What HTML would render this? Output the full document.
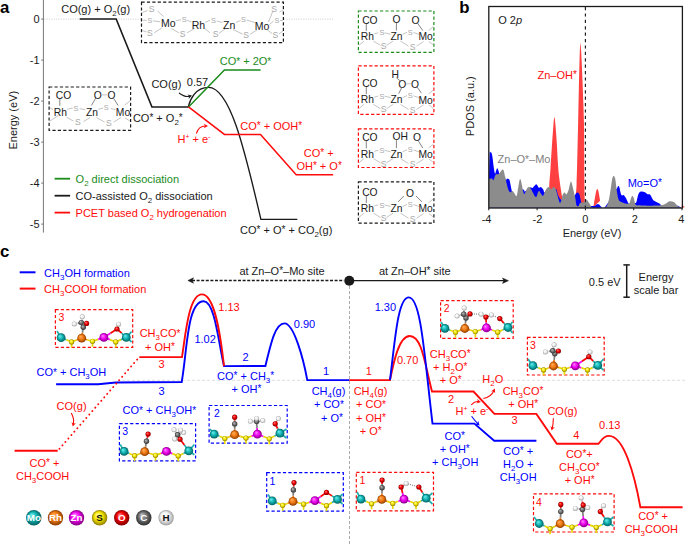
<!DOCTYPE html>
<html><head><meta charset="utf-8"><style>
html,body{margin:0;padding:0;background:#fff;}
svg{display:block;font-family:"Liberation Sans", sans-serif;}
</style></head><body>
<svg width="685" height="544" viewBox="0 0 685 544">
<defs><radialGradient id="gMo" cx="0.5" cy="0.5" r="0.5" fx="0.35" fy="0.3"><stop offset="0" stop-color="#70f0f0"/><stop offset="0.55" stop-color="#10b0b0"/><stop offset="1" stop-color="#056060"/></radialGradient><radialGradient id="gRh" cx="0.5" cy="0.5" r="0.5" fx="0.35" fy="0.3"><stop offset="0" stop-color="#ffb060"/><stop offset="0.55" stop-color="#f07810"/><stop offset="1" stop-color="#8a3c00"/></radialGradient><radialGradient id="gZn" cx="0.5" cy="0.5" r="0.5" fx="0.35" fy="0.3"><stop offset="0" stop-color="#ff90ff"/><stop offset="0.55" stop-color="#f000f0"/><stop offset="1" stop-color="#800080"/></radialGradient><radialGradient id="gS" cx="0.5" cy="0.5" r="0.5" fx="0.35" fy="0.3"><stop offset="0" stop-color="#ffffa0"/><stop offset="0.55" stop-color="#f5e600"/><stop offset="1" stop-color="#907e00"/></radialGradient><radialGradient id="gO" cx="0.5" cy="0.5" r="0.5" fx="0.35" fy="0.3"><stop offset="0" stop-color="#ff8080"/><stop offset="0.55" stop-color="#f00000"/><stop offset="1" stop-color="#800000"/></radialGradient><radialGradient id="gC" cx="0.5" cy="0.5" r="0.5" fx="0.35" fy="0.3"><stop offset="0" stop-color="#c0c0c0"/><stop offset="0.55" stop-color="#707070"/><stop offset="1" stop-color="#303030"/></radialGradient><radialGradient id="gH" cx="0.5" cy="0.5" r="0.5" fx="0.35" fy="0.3"><stop offset="0" stop-color="#ffffff"/><stop offset="0.55" stop-color="#f0f0f0"/><stop offset="1" stop-color="#a0a0a0"/></radialGradient></defs>
<rect width="685" height="544" fill="#fff"/>
<text x="0" y="13.1" font-size="16.8" fill="#000" text-anchor="start" font-weight="bold" >a</text>
<line x1="43.4" y1="0" x2="43.4" y2="232.6" stroke="#777" stroke-width="1" />
<line x1="41.2" y1="19.1" x2="43.4" y2="19.1" stroke="#777" stroke-width="1" />
<text x="39.6" y="22.6" font-size="11" fill="#1a1a1a" text-anchor="end" font-weight="normal" >0</text>
<line x1="41.2" y1="60.1" x2="43.4" y2="60.1" stroke="#777" stroke-width="1" />
<text x="39.6" y="63.6" font-size="11" fill="#1a1a1a" text-anchor="end" font-weight="normal" >-1</text>
<line x1="41.2" y1="101.1" x2="43.4" y2="101.1" stroke="#777" stroke-width="1" />
<text x="39.6" y="104.6" font-size="11" fill="#1a1a1a" text-anchor="end" font-weight="normal" >-2</text>
<line x1="41.2" y1="142.1" x2="43.4" y2="142.1" stroke="#777" stroke-width="1" />
<text x="39.6" y="145.6" font-size="11" fill="#1a1a1a" text-anchor="end" font-weight="normal" >-3</text>
<line x1="41.2" y1="183.1" x2="43.4" y2="183.1" stroke="#777" stroke-width="1" />
<text x="39.6" y="186.6" font-size="11" fill="#1a1a1a" text-anchor="end" font-weight="normal" >-4</text>
<line x1="41.2" y1="224.1" x2="43.4" y2="224.1" stroke="#777" stroke-width="1" />
<text x="39.6" y="227.6" font-size="11" fill="#1a1a1a" text-anchor="end" font-weight="normal" >-5</text>
<text x="0" y="0" font-size="11" fill="#1a1a1a" text-anchor="middle" transform="translate(17.0,120.2) rotate(-90)">Energy (eV)</text>
<line x1="44" y1="19.1" x2="333" y2="19.1" stroke="#c8c8c8" stroke-width="0.8" stroke-dasharray="1.2,1.2"/>
<rect x="141.5" y="2.2" width="141.89999999999998" height="40.5" fill="#fff" stroke="#1a1a1a" stroke-width="1.2" stroke-dasharray="3.2,2.2"/>
<line x1="163.5" y1="16.4" x2="157.5" y2="11" stroke="#bdbdbd" stroke-width="0.9"/>
<line x1="160.3" y1="21.9" x2="153.1" y2="20.8" stroke="#bdbdbd" stroke-width="0.9"/>
<line x1="161.9" y1="27.9" x2="154.2" y2="32.8" stroke="#bdbdbd" stroke-width="0.9"/>
<line x1="175.6" y1="20.8" x2="181" y2="19.7" stroke="#bdbdbd" stroke-width="0.9"/>
<line x1="187.1" y1="20.3" x2="191.5" y2="21.9" stroke="#bdbdbd" stroke-width="0.9"/>
<line x1="171.2" y1="28.5" x2="178.9" y2="32.8" stroke="#bdbdbd" stroke-width="0.9"/>
<line x1="187.1" y1="32.8" x2="194.7" y2="28.5" stroke="#bdbdbd" stroke-width="0.9"/>
<line x1="205.1" y1="22.4" x2="210" y2="20.3" stroke="#bdbdbd" stroke-width="0.9"/>
<line x1="204.6" y1="28.5" x2="210" y2="32.8" stroke="#bdbdbd" stroke-width="0.9"/>
<line x1="216.8" y1="21" x2="222.5" y2="22.5" stroke="#bdbdbd" stroke-width="0.9"/>
<line x1="218.8" y1="33.5" x2="225" y2="29" stroke="#bdbdbd" stroke-width="0.9"/>
<line x1="235.8" y1="22.5" x2="240.5" y2="20.5" stroke="#bdbdbd" stroke-width="0.9"/>
<line x1="233" y1="29.5" x2="242.5" y2="34" stroke="#bdbdbd" stroke-width="0.9"/>
<line x1="246.8" y1="20" x2="255.5" y2="22.8" stroke="#bdbdbd" stroke-width="0.9"/>
<line x1="249.8" y1="34.5" x2="257" y2="30" stroke="#bdbdbd" stroke-width="0.9"/>
<line x1="268.5" y1="22" x2="272.5" y2="12" stroke="#bdbdbd" stroke-width="0.9"/>
<line x1="269.5" y1="24.5" x2="273.5" y2="21" stroke="#bdbdbd" stroke-width="0.9"/>
<line x1="267.5" y1="30" x2="272" y2="33.5" stroke="#bdbdbd" stroke-width="0.9"/>
<line x1="142.5" y1="12.5" x2="147.5" y2="10.5" stroke="#bdbdbd" stroke-width="0.9"/>
<line x1="142.5" y1="20.2" x2="146.5" y2="20.3" stroke="#bdbdbd" stroke-width="0.9"/>
<line x1="142.5" y1="30.5" x2="146.5" y2="32" stroke="#bdbdbd" stroke-width="0.9"/>
<line x1="279.5" y1="12" x2="283" y2="10" stroke="#bdbdbd" stroke-width="0.9"/>
<line x1="280" y1="20.5" x2="283" y2="20.5" stroke="#bdbdbd" stroke-width="0.9"/>
<line x1="279" y1="34" x2="283" y2="31" stroke="#bdbdbd" stroke-width="0.9"/>
<text x="151.5" y="12.40" font-size="8.6" fill="#a8a8a8" text-anchor="middle">S</text>
<text x="149.9" y="22.89" font-size="7.2" fill="#a8a8a8" text-anchor="middle">S</text>
<text x="149.9" y="35.90" font-size="8.6" fill="#a8a8a8" text-anchor="middle">S</text>
<text x="184.3" y="21.86" font-size="7.4" fill="#a8a8a8" text-anchor="middle">S</text>
<text x="182.7" y="37.00" font-size="8.6" fill="#a8a8a8" text-anchor="middle">S</text>
<text x="213.4" y="23.46" font-size="7.4" fill="#a8a8a8" text-anchor="middle">S</text>
<text x="215.5" y="37.10" font-size="8.6" fill="#a8a8a8" text-anchor="middle">S</text>
<text x="243.4" y="22.36" font-size="7.4" fill="#a8a8a8" text-anchor="middle">S</text>
<text x="246.2" y="38.10" font-size="8.6" fill="#a8a8a8" text-anchor="middle">S</text>
<text x="274" y="12.30" font-size="8.6" fill="#a8a8a8" text-anchor="middle">S</text>
<text x="276.8" y="22.99" font-size="7.2" fill="#a8a8a8" text-anchor="middle">S</text>
<text x="275.3" y="37.70" font-size="8.6" fill="#a8a8a8" text-anchor="middle">S</text>
<text x="168.2" y="27.36" font-size="10.5" fill="#1a1a1a" text-anchor="middle">Mo</text>
<text x="198.4" y="29.16" font-size="10.5" fill="#1a1a1a" text-anchor="middle">Rh</text>
<text x="229.2" y="28.76" font-size="10.5" fill="#1a1a1a" text-anchor="middle">Zn</text>
<text x="262.1" y="29.96" font-size="10.5" fill="#1a1a1a" text-anchor="middle">Mo</text>
<polyline points="79.7,19.1 116.2,19.1 151.9,106.9 188.5,106.9" fill="none" stroke="#1a1a1a" stroke-width="1.5" stroke-linejoin="miter" />
<path d="M188.2,107.1 C190,99.4 195.5,87.4 208.5,87.4 C231.1,87.4 246.3,157.9 260.9,219.3 L297.3,219.3" fill="none" stroke="#1a1a1a" stroke-width="1.35" />
<polyline points="188.5,106.9 224.4,69.9 260.6,69.9" fill="none" stroke="#1a8c1a" stroke-width="1.5" stroke-linejoin="miter" />
<polyline points="188.5,106.9 224.4,134.4 260.5,134.4 296.2,174.7 333.2,174.7" fill="none" stroke="#ff0a0a" stroke-width="1.5" stroke-linejoin="miter" />
<text x="61.2" y="13.4" font-size="11" fill="#1a1a1a" text-anchor="start" font-weight="normal" >CO(g) + O<tspan dy="3.08" font-size="7.92">2</tspan><tspan dy="-3.08">​</tspan>(g)</text>
<text x="132.9" y="121.8" font-size="11" fill="#1a1a1a" text-anchor="start" font-weight="normal" >CO<tspan dy="-0.77" font-size="10.01">*</tspan><tspan dy="0.77">​</tspan> + O<tspan dy="3.08" font-size="7.92">2</tspan><tspan dy="-3.08">​</tspan><tspan dy="-0.77" font-size="10.01">*</tspan><tspan dy="0.77">​</tspan></text>
<text x="151.4" y="88.2" font-size="11" fill="#1a1a1a" text-anchor="start" font-weight="normal" >CO(g)</text>
<text x="186.8" y="86.4" font-size="11" fill="#1a1a1a" text-anchor="start" font-weight="normal" >0.57</text>
<text x="219.7" y="65.3" font-size="11" fill="#1a8c1a" text-anchor="start" font-weight="normal" >CO<tspan dy="-0.77" font-size="10.01">*</tspan><tspan dy="0.77">​</tspan> + 2O<tspan dy="-0.77" font-size="10.01">*</tspan><tspan dy="0.77">​</tspan></text>
<text x="240.3" y="130.0" font-size="11" fill="#ff0a0a" text-anchor="start" font-weight="normal" >CO<tspan dy="-0.77" font-size="10.01">*</tspan><tspan dy="0.77">​</tspan> + OOH<tspan dy="-0.77" font-size="10.01">*</tspan><tspan dy="0.77">​</tspan></text>
<text x="318.8" y="157.0" font-size="11" fill="#ff0a0a" text-anchor="middle" font-weight="normal" >CO<tspan dy="-0.77" font-size="10.01">*</tspan><tspan dy="0.77">​</tspan> +</text>
<text x="319.1" y="170.2" font-size="11" fill="#ff0a0a" text-anchor="middle" font-weight="normal" >OH<tspan dy="-0.77" font-size="10.01">*</tspan><tspan dy="0.77">​</tspan> + O<tspan dy="-0.77" font-size="10.01">*</tspan><tspan dy="0.77">​</tspan></text>
<text x="240" y="234.2" font-size="11" fill="#1a1a1a" text-anchor="start" font-weight="normal" >CO<tspan dy="-0.77" font-size="10.01">*</tspan><tspan dy="0.77">​</tspan> + O<tspan dy="-0.77" font-size="10.01">*</tspan><tspan dy="0.77">​</tspan> + CO<tspan dy="3.08" font-size="7.92">2</tspan><tspan dy="-3.08">​</tspan>(g)</text>
<text x="210.4" y="142.9" font-size="11" fill="#ff0a0a" text-anchor="end" font-weight="normal" >H<tspan dy="-3.96" font-size="6.82">+</tspan><tspan dy="3.96">​</tspan> + e<tspan dy="-3.96" font-size="6.82">-</tspan><tspan dy="3.96">​</tspan></text>
<path d="M179,93 Q185,97.5 189.57,96.26" fill="none" stroke="#1a1a1a" stroke-width="1.1"/>
<path d="M192,95.6 L188.55,98.92 L189.16,96.37 L187.34,94.48 Z" fill="#1a1a1a"/>
<path d="M196.4,133.5 Q198.5,126 205.48,126.00" fill="none" stroke="#ff0a0a" stroke-width="1.1"/>
<path d="M208,126 L203.80,128.30 L205.06,126.00 L203.80,123.70 Z" fill="#ff0a0a"/>
<line x1="54.6" y1="178.7" x2="70.1" y2="178.7" stroke="#1a8c1a" stroke-width="1.8" />
<text x="75.6" y="183.1" font-size="11" fill="#1a8c1a" text-anchor="start" font-weight="normal" >O<tspan dy="3.08" font-size="7.92">2</tspan><tspan dy="-3.08">​</tspan> direct dissociation</text>
<line x1="54.6" y1="195.7" x2="70.1" y2="195.7" stroke="#1a1a1a" stroke-width="1.8" />
<text x="75.6" y="200.1" font-size="11" fill="#1a1a1a" text-anchor="start" font-weight="normal" >CO-assisted O<tspan dy="3.08" font-size="7.92">2</tspan><tspan dy="-3.08">​</tspan> dissociation</text>
<line x1="54.6" y1="212.6" x2="70.1" y2="212.6" stroke="#ff0a0a" stroke-width="1.8" />
<text x="75.6" y="217.0" font-size="11" fill="#ff0a0a" text-anchor="start" font-weight="normal" >PCET based O<tspan dy="3.08" font-size="7.92">2</tspan><tspan dy="-3.08">​</tspan> hydrogenation</text>
<rect x="49.1" y="87" width="81.5" height="43.30000000000001" fill="none" stroke="#1a1a1a" stroke-width="1.2" stroke-dasharray="3.2,2.2"/>
<line x1="67.2" y1="109.2" x2="72.8" y2="108" stroke="#bdbdbd" stroke-width="0.9"/>
<line x1="79.6" y1="108.6" x2="85.2" y2="109.8" stroke="#bdbdbd" stroke-width="0.9"/>
<line x1="66.6" y1="117.3" x2="73.4" y2="121" stroke="#bdbdbd" stroke-width="0.9"/>
<line x1="83.4" y1="121.6" x2="90.2" y2="117.5" stroke="#bdbdbd" stroke-width="0.9"/>
<line x1="98.2" y1="109.2" x2="103.2" y2="108" stroke="#bdbdbd" stroke-width="0.9"/>
<line x1="110.7" y1="108.6" x2="115.6" y2="109.6" stroke="#bdbdbd" stroke-width="0.9"/>
<line x1="96.4" y1="117.5" x2="104.5" y2="122" stroke="#bdbdbd" stroke-width="0.9"/>
<line x1="113.8" y1="122" x2="121.2" y2="117.5" stroke="#bdbdbd" stroke-width="0.9"/>
<line x1="58.5" y1="115.4" x2="49.9" y2="121" stroke="#bdbdbd" stroke-width="0.9"/>
<line x1="124.9" y1="104.9" x2="129.9" y2="101.1" stroke="#bdbdbd" stroke-width="0.9"/>
<line x1="124.9" y1="117.9" x2="129.9" y2="121" stroke="#bdbdbd" stroke-width="0.9"/>
<line x1="50" y1="108" x2="53" y2="109.5" stroke="#bdbdbd" stroke-width="0.9"/>
<line x1="59.8" y1="98.6" x2="59.8" y2="105.8" stroke="#777" stroke-width="0.9"/>
<line x1="101.6" y1="94.9" x2="107.3" y2="94.9" stroke="#bdbdbd" stroke-width="0.9"/>
<line x1="95.8" y1="98" x2="91.4" y2="105.5" stroke="#777" stroke-width="0.9"/>
<line x1="113.8" y1="98.6" x2="118.1" y2="105.5" stroke="#777" stroke-width="0.9"/>
<text x="75.9" y="110.66" font-size="7.4" fill="#a8a8a8" text-anchor="middle">S</text>
<text x="77.8" y="125.30" font-size="8.6" fill="#a8a8a8" text-anchor="middle">S</text>
<text x="106.3" y="109.96" font-size="7.4" fill="#a8a8a8" text-anchor="middle">S</text>
<text x="108.8" y="125.90" font-size="8.6" fill="#a8a8a8" text-anchor="middle">S</text>
<text x="63.5" y="98.69" font-size="10.3" fill="#1a1a1a" text-anchor="middle">CO</text>
<text x="60.4" y="115.69" font-size="10.3" fill="#1a1a1a" text-anchor="middle">Rh</text>
<text x="92" y="115.69" font-size="10.3" fill="#1a1a1a" text-anchor="middle">Zn</text>
<text x="123" y="115.89" font-size="10.3" fill="#1a1a1a" text-anchor="middle">Mo</text>
<text x="97.8" y="98.99" font-size="10.3" fill="#1a1a1a" text-anchor="middle">O</text>
<text x="111.4" y="98.99" font-size="10.3" fill="#1a1a1a" text-anchor="middle">O</text>
<rect x="358.4" y="11" width="75.5" height="41.3" fill="none" stroke="#1a8c1a" stroke-width="1.2" stroke-dasharray="3.2,2.2"/>
<rect x="358.4" y="65.8" width="75.5" height="48.5" fill="none" stroke="#ff0a0a" stroke-width="1.2" stroke-dasharray="3.2,2.2"/>
<rect x="358.4" y="128.8" width="75.5" height="38.69999999999999" fill="none" stroke="#ff0a0a" stroke-width="1.2" stroke-dasharray="3.2,2.2"/>
<rect x="358.4" y="181.8" width="75.5" height="41.29999999999998" fill="none" stroke="#1a1a1a" stroke-width="1.2" stroke-dasharray="3.2,2.2"/>
<line x1="374.2" y1="33.9" x2="378.2" y2="32.800000000000004" stroke="#bdbdbd" stroke-width="0.9"/>
<line x1="384.5" y1="32.800000000000004" x2="390.5" y2="34.300000000000004" stroke="#bdbdbd" stroke-width="0.9"/>
<line x1="373.5" y1="41.1" x2="380.5" y2="45.400000000000006" stroke="#bdbdbd" stroke-width="0.9"/>
<line x1="386.5" y1="45.400000000000006" x2="393" y2="41.1" stroke="#bdbdbd" stroke-width="0.9"/>
<line x1="402.5" y1="34.300000000000004" x2="407" y2="32.300000000000004" stroke="#bdbdbd" stroke-width="0.9"/>
<line x1="413.5" y1="32.5" x2="419" y2="34.4" stroke="#bdbdbd" stroke-width="0.9"/>
<line x1="400.5" y1="41.1" x2="408.5" y2="46.1" stroke="#bdbdbd" stroke-width="0.9"/>
<line x1="416.5" y1="46.1" x2="423.5" y2="41.6" stroke="#bdbdbd" stroke-width="0.9"/>
<line x1="364" y1="41.1" x2="359" y2="45.1" stroke="#bdbdbd" stroke-width="0.9"/>
<line x1="428.5" y1="30.6" x2="433.5" y2="26.6" stroke="#bdbdbd" stroke-width="0.9"/>
<line x1="429" y1="41.6" x2="433.5" y2="45.1" stroke="#bdbdbd" stroke-width="0.9"/>
<line x1="366.3" y1="23.3" x2="366.3" y2="30.900000000000002" stroke="#777" stroke-width="0.9"/>
<text x="381.9" y="35.46" font-size="7.4" fill="#a8a8a8" text-anchor="middle">S</text>
<text x="383.7" y="49.10" font-size="8.6" fill="#a8a8a8" text-anchor="middle">S</text>
<text x="410.1" y="34.86" font-size="7.4" fill="#a8a8a8" text-anchor="middle">S</text>
<text x="412.5" y="49.60" font-size="8.6" fill="#a8a8a8" text-anchor="middle">S</text>
<text x="369.9" y="23.99" font-size="10.3" fill="#1a1a1a" text-anchor="middle">CO</text>
<text x="367.4" y="40.19" font-size="10.3" fill="#1a1a1a" text-anchor="middle">Rh</text>
<text x="396.6" y="40.19" font-size="10.3" fill="#1a1a1a" text-anchor="middle">Zn</text>
<text x="425.6" y="40.39" font-size="10.3" fill="#1a1a1a" text-anchor="middle">Mo</text>
<line x1="396.4" y1="22.6" x2="396.4" y2="30.6" stroke="#777" stroke-width="0.9"/>
<line x1="417.5" y1="23.1" x2="422.8" y2="30.6" stroke="#777" stroke-width="0.9"/>
<text x="396.5" y="22.59" font-size="10.3" fill="#1a1a1a" text-anchor="middle">O</text>
<text x="415.6" y="23.79" font-size="10.3" fill="#1a1a1a" text-anchor="middle">O</text>
<line x1="374.2" y1="97.2" x2="378.2" y2="96.10000000000001" stroke="#bdbdbd" stroke-width="0.9"/>
<line x1="384.5" y1="96.10000000000001" x2="390.5" y2="97.60000000000001" stroke="#bdbdbd" stroke-width="0.9"/>
<line x1="373.5" y1="104.4" x2="380.5" y2="108.7" stroke="#bdbdbd" stroke-width="0.9"/>
<line x1="386.5" y1="108.7" x2="393" y2="104.4" stroke="#bdbdbd" stroke-width="0.9"/>
<line x1="402.5" y1="97.60000000000001" x2="407" y2="95.60000000000001" stroke="#bdbdbd" stroke-width="0.9"/>
<line x1="413.5" y1="95.80000000000001" x2="419" y2="97.7" stroke="#bdbdbd" stroke-width="0.9"/>
<line x1="400.5" y1="104.4" x2="408.5" y2="109.4" stroke="#bdbdbd" stroke-width="0.9"/>
<line x1="416.5" y1="109.4" x2="423.5" y2="104.9" stroke="#bdbdbd" stroke-width="0.9"/>
<line x1="364" y1="104.4" x2="359" y2="108.4" stroke="#bdbdbd" stroke-width="0.9"/>
<line x1="428.5" y1="93.9" x2="433.5" y2="89.9" stroke="#bdbdbd" stroke-width="0.9"/>
<line x1="429" y1="104.9" x2="433.5" y2="108.4" stroke="#bdbdbd" stroke-width="0.9"/>
<line x1="366.3" y1="86.60000000000001" x2="366.3" y2="94.2" stroke="#777" stroke-width="0.9"/>
<text x="381.9" y="98.76" font-size="7.4" fill="#a8a8a8" text-anchor="middle">S</text>
<text x="383.7" y="112.40" font-size="8.6" fill="#a8a8a8" text-anchor="middle">S</text>
<text x="410.1" y="98.16" font-size="7.4" fill="#a8a8a8" text-anchor="middle">S</text>
<text x="412.5" y="112.90" font-size="8.6" fill="#a8a8a8" text-anchor="middle">S</text>
<text x="369.9" y="87.29" font-size="10.3" fill="#1a1a1a" text-anchor="middle">CO</text>
<text x="367.4" y="103.49" font-size="10.3" fill="#1a1a1a" text-anchor="middle">Rh</text>
<text x="396.6" y="103.49" font-size="10.3" fill="#1a1a1a" text-anchor="middle">Zn</text>
<text x="425.6" y="103.69" font-size="10.3" fill="#1a1a1a" text-anchor="middle">Mo</text>
<text x="395.1" y="78.39" font-size="10.3" fill="#1a1a1a" text-anchor="middle">H</text>
<text x="402.3" y="88.19" font-size="10.3" fill="#1a1a1a" text-anchor="middle">O</text>
<text x="414.9" y="88.19" font-size="10.3" fill="#1a1a1a" text-anchor="middle">O</text>
<line x1="396.3" y1="77.60000000000001" x2="400.5" y2="81.2" stroke="#777" stroke-width="0.9"/>
<line x1="405.9" y1="83.80000000000001" x2="411.3" y2="83.80000000000001" stroke="#bdbdbd" stroke-width="0.9"/>
<line x1="401.7" y1="87.7" x2="398.7" y2="93.7" stroke="#777" stroke-width="0.9"/>
<line x1="417.2" y1="87.10000000000001" x2="421.4" y2="93.10000000000001" stroke="#777" stroke-width="0.9"/>
<line x1="374.2" y1="151.4" x2="378.2" y2="150.29999999999998" stroke="#bdbdbd" stroke-width="0.9"/>
<line x1="384.5" y1="150.29999999999998" x2="390.5" y2="151.79999999999998" stroke="#bdbdbd" stroke-width="0.9"/>
<line x1="373.5" y1="158.6" x2="380.5" y2="162.9" stroke="#bdbdbd" stroke-width="0.9"/>
<line x1="386.5" y1="162.9" x2="393" y2="158.6" stroke="#bdbdbd" stroke-width="0.9"/>
<line x1="402.5" y1="151.79999999999998" x2="407" y2="149.79999999999998" stroke="#bdbdbd" stroke-width="0.9"/>
<line x1="413.5" y1="150.0" x2="419" y2="151.9" stroke="#bdbdbd" stroke-width="0.9"/>
<line x1="400.5" y1="158.6" x2="408.5" y2="163.6" stroke="#bdbdbd" stroke-width="0.9"/>
<line x1="416.5" y1="163.6" x2="423.5" y2="159.1" stroke="#bdbdbd" stroke-width="0.9"/>
<line x1="364" y1="158.6" x2="359" y2="162.6" stroke="#bdbdbd" stroke-width="0.9"/>
<line x1="428.5" y1="148.1" x2="433.5" y2="144.1" stroke="#bdbdbd" stroke-width="0.9"/>
<line x1="429" y1="159.1" x2="433.5" y2="162.6" stroke="#bdbdbd" stroke-width="0.9"/>
<line x1="366.3" y1="140.79999999999998" x2="366.3" y2="148.4" stroke="#777" stroke-width="0.9"/>
<text x="381.9" y="152.96" font-size="7.4" fill="#a8a8a8" text-anchor="middle">S</text>
<text x="383.7" y="166.60" font-size="8.6" fill="#a8a8a8" text-anchor="middle">S</text>
<text x="410.1" y="152.36" font-size="7.4" fill="#a8a8a8" text-anchor="middle">S</text>
<text x="412.5" y="167.10" font-size="8.6" fill="#a8a8a8" text-anchor="middle">S</text>
<text x="369.9" y="141.49" font-size="10.3" fill="#1a1a1a" text-anchor="middle">CO</text>
<text x="367.4" y="157.69" font-size="10.3" fill="#1a1a1a" text-anchor="middle">Rh</text>
<text x="396.6" y="157.69" font-size="10.3" fill="#1a1a1a" text-anchor="middle">Zn</text>
<text x="425.6" y="157.89" font-size="10.3" fill="#1a1a1a" text-anchor="middle">Mo</text>
<text x="400.3" y="139.79" font-size="10.3" fill="#1a1a1a" text-anchor="middle">OH</text>
<text x="417.1" y="141.29" font-size="10.3" fill="#1a1a1a" text-anchor="middle">O</text>
<line x1="396.4" y1="140.1" x2="396.4" y2="148.1" stroke="#777" stroke-width="0.9"/>
<line x1="418.5" y1="141.1" x2="422.8" y2="148.1" stroke="#777" stroke-width="0.9"/>
<line x1="374.2" y1="206.0" x2="378.2" y2="204.89999999999998" stroke="#bdbdbd" stroke-width="0.9"/>
<line x1="384.5" y1="204.89999999999998" x2="390.5" y2="206.39999999999998" stroke="#bdbdbd" stroke-width="0.9"/>
<line x1="373.5" y1="213.2" x2="380.5" y2="217.5" stroke="#bdbdbd" stroke-width="0.9"/>
<line x1="386.5" y1="217.5" x2="393" y2="213.2" stroke="#bdbdbd" stroke-width="0.9"/>
<line x1="402.5" y1="206.39999999999998" x2="407" y2="204.39999999999998" stroke="#bdbdbd" stroke-width="0.9"/>
<line x1="413.5" y1="204.6" x2="419" y2="206.5" stroke="#bdbdbd" stroke-width="0.9"/>
<line x1="400.5" y1="213.2" x2="408.5" y2="218.2" stroke="#bdbdbd" stroke-width="0.9"/>
<line x1="416.5" y1="218.2" x2="423.5" y2="213.7" stroke="#bdbdbd" stroke-width="0.9"/>
<line x1="364" y1="213.2" x2="359" y2="217.2" stroke="#bdbdbd" stroke-width="0.9"/>
<line x1="428.5" y1="202.7" x2="433.5" y2="198.7" stroke="#bdbdbd" stroke-width="0.9"/>
<line x1="429" y1="213.7" x2="433.5" y2="217.2" stroke="#bdbdbd" stroke-width="0.9"/>
<line x1="366.3" y1="195.39999999999998" x2="366.3" y2="203.0" stroke="#777" stroke-width="0.9"/>
<text x="381.9" y="207.56" font-size="7.4" fill="#a8a8a8" text-anchor="middle">S</text>
<text x="383.7" y="221.20" font-size="8.6" fill="#a8a8a8" text-anchor="middle">S</text>
<text x="410.1" y="206.96" font-size="7.4" fill="#a8a8a8" text-anchor="middle">S</text>
<text x="412.5" y="221.70" font-size="8.6" fill="#a8a8a8" text-anchor="middle">S</text>
<text x="369.9" y="196.09" font-size="10.3" fill="#1a1a1a" text-anchor="middle">CO</text>
<text x="367.4" y="212.29" font-size="10.3" fill="#1a1a1a" text-anchor="middle">Rh</text>
<text x="396.6" y="212.29" font-size="10.3" fill="#1a1a1a" text-anchor="middle">Zn</text>
<text x="425.6" y="212.49" font-size="10.3" fill="#1a1a1a" text-anchor="middle">Mo</text>
<text x="410" y="197.39" font-size="10.3" fill="#1a1a1a" text-anchor="middle">O</text>
<line x1="403.8" y1="196.0" x2="398.1" y2="201.89999999999998" stroke="#777" stroke-width="0.9"/>
<line x1="416" y1="196.0" x2="422" y2="201.89999999999998" stroke="#777" stroke-width="0.9"/>
<text x="459.3" y="12.9" font-size="16.8" fill="#000" text-anchor="start" font-weight="bold" >b</text>
<path d="M548.5,207.8 C548.62,204.25 548.87,193.05 549.2,186.5 C549.53,179.95 550.02,175.73 550.5,168.5 C550.98,161.27 551.63,150.10 552.1,143.1 C552.57,136.10 553.00,130.43 553.3,126.5 C553.60,122.57 553.72,121.05 553.9,119.5 C554.08,117.95 554.23,117.20 554.4,117.2 C554.57,117.20 554.70,117.95 554.9,119.5 C555.10,121.05 555.28,122.57 555.6,126.5 C555.92,130.43 556.42,137.02 556.8,143.1 C557.18,149.18 557.55,157.68 557.9,163 C558.25,168.32 558.47,171.00 558.9,175 C559.33,179.00 559.92,183.02 560.5,187 C561.08,190.98 561.90,195.43 562.4,198.9 C562.90,202.37 561.48,206.32 563.5,207.8 L574.5,207.8 C576.42,206.22 574.65,202.22 575,198.3 C575.35,194.38 576.08,196.63 576.6,184.3 C577.12,171.97 577.72,140.70 578.1,124.3 C578.48,107.90 578.67,96.28 578.9,85.9 C579.13,75.52 579.33,67.98 579.5,62 C579.67,56.02 579.73,53.13 579.9,50 C580.07,46.87 580.30,43.20 580.5,43.2 C580.70,43.20 580.90,46.87 581.1,50 C581.30,53.13 581.43,56.02 581.7,62 C581.97,67.98 582.32,75.52 582.7,85.9 C583.08,96.28 583.72,107.95 584,124.3 C584.28,140.65 584.28,171.72 584.4,184 C584.52,196.28 584.55,194.03 584.7,198 C584.85,201.97 584.00,206.17 585.3,207.8 L592.5,207.8 C594.03,206.50 593.92,202.63 594.5,200 C595.08,197.37 595.53,193.83 596,192 C596.47,190.17 596.87,189.00 597.3,189 C597.73,189.00 598.15,190.17 598.6,192 C599.05,193.83 599.52,197.37 600,200 C600.48,202.63 588.50,206.50 601.5,207.8 L678,207.8 C691.25,207.42 680.33,205.50 681,205.5 C681.67,205.50 681.83,207.42 682,207.8 Z" fill="#ff4040"/>
<path d="M489,207.8 C489.00,203.30 488.90,189.77 489,180.8 C489.10,171.83 489.35,158.73 489.6,154 C489.85,149.27 490.15,152.50 490.5,152.4 C490.85,152.30 491.35,152.45 491.7,153.4 C492.05,154.35 492.25,155.72 492.6,158.1 C492.95,160.48 493.40,165.10 493.8,167.7 C494.20,170.30 494.62,173.20 495,173.7 C495.38,174.20 495.72,171.60 496.1,170.7 C496.48,169.80 496.90,168.30 497.3,168.3 C497.70,168.30 498.20,169.92 498.5,170.7 C498.80,171.48 498.85,172.45 499.1,173 C499.35,173.55 499.02,173.17 500,174 C500.98,174.83 504.05,176.87 505,178 C505.95,179.13 505.37,180.72 505.7,180.8 C506.03,180.88 506.60,178.80 507,178.5 C507.40,178.20 507.72,178.82 508.1,179 C508.48,179.18 508.90,178.70 509.3,179.6 C509.70,180.50 510.10,182.60 510.5,184.4 C510.90,186.20 511.37,189.10 511.7,190.4 C512.03,191.70 512.00,191.42 512.5,192.2 C513.00,192.98 514.13,194.22 514.7,195.1 C515.27,195.98 515.35,197.68 515.9,197.5 C516.45,197.32 517.15,195.25 518,194 C518.85,192.75 520.17,190.80 521,190 C521.83,189.20 522.47,189.13 523,189.2 C523.53,189.27 523.90,190.03 524.2,190.4 C524.50,190.77 524.33,191.47 524.8,191.4 C525.27,191.33 526.03,190.68 527,190 C527.97,189.32 529.72,187.62 530.6,187.3 C531.48,186.98 531.68,188.30 532.3,188.1 C532.92,187.90 533.65,186.75 534.3,186.1 C534.95,185.45 535.65,184.27 536.2,184.2 C536.75,184.13 537.15,185.12 537.6,185.7 C538.05,186.28 538.42,187.50 538.9,187.7 C539.38,187.90 540.02,186.90 540.5,186.9 C540.98,186.90 541.32,187.22 541.8,187.7 C542.28,188.18 543.00,189.03 543.4,189.8 C543.80,190.57 543.77,191.93 544.2,192.3 C544.63,192.67 544.53,192.38 546,192 C547.47,191.62 551.43,190.50 553,190 C554.57,189.50 554.80,189.03 555.4,189 C556.00,188.97 556.18,188.83 556.6,189.8 C557.02,190.77 557.42,193.42 557.9,194.8 C558.38,196.18 558.95,197.28 559.5,198.1 C560.05,198.92 560.62,199.38 561.2,199.7 C561.78,200.02 561.20,199.95 563,200 C564.80,200.05 570.13,200.53 572,200 C573.87,199.47 573.53,197.88 574.2,196.8 C574.87,195.72 575.47,194.23 576,193.5 C576.53,192.77 576.98,192.48 577.4,192.4 C577.82,192.32 578.12,192.53 578.5,193 C578.88,193.47 579.23,193.67 579.7,195.2 C580.17,196.73 580.75,200.73 581.3,202.2 C581.85,203.67 582.38,203.37 583,204 C583.62,204.63 583.17,205.67 585,206 C586.83,206.33 592.28,206.08 594,206 C595.72,205.92 594.80,205.78 595.3,205.5 C595.80,205.22 596.35,204.45 597,204.3 C597.65,204.15 598.53,204.23 599.2,204.6 C599.87,204.97 600.03,206.10 601,206.5 C601.97,206.90 602.50,209.75 605,207 C607.50,204.25 613.83,193.45 616,190 C618.17,186.55 617.45,186.80 618,186.3 C618.55,185.80 618.75,185.58 619.3,187 C619.85,188.42 620.53,193.43 621.3,194.8 C622.07,196.17 623.13,194.65 623.9,195.2 C624.67,195.75 625.13,196.73 625.9,198.1 C626.67,199.47 627.65,202.42 628.5,203.4 C629.35,204.38 629.92,204.07 631,204 C632.08,203.93 634.10,203.33 635,203 C635.90,202.67 635.83,203.47 636.4,202 C636.97,200.53 637.63,195.95 638.4,194.2 C639.17,192.45 639.92,191.83 641,191.5 C642.08,191.17 643.80,191.75 644.9,192.2 C646.00,192.65 646.72,193.77 647.6,194.2 C648.48,194.63 649.33,193.93 650.2,194.8 C651.07,195.67 651.93,198.30 652.8,199.4 C653.67,200.50 654.30,200.73 655.4,201.4 C656.50,202.07 658.42,202.75 659.4,203.4 C660.38,204.05 660.70,204.87 661.3,205.3 C661.90,205.73 660.88,205.88 663,206 C665.12,206.12 671.53,206.03 674,206 C676.47,205.97 676.80,205.63 677.8,205.8 C678.80,205.97 679.30,206.67 680,207 C680.70,207.33 681.67,207.67 682,207.8 Z" fill="#0000ff"/>
<path d="M489,207.8 C489.00,203.30 488.80,185.60 489,180.8 C489.20,176.00 489.70,179.40 490.2,179 C490.70,178.60 491.47,178.20 492,178.4 C492.53,178.60 492.90,180.60 493.4,180.2 C493.90,179.80 494.55,176.98 495,176 C495.45,175.02 495.62,174.58 496.1,174.3 C496.58,174.02 497.35,174.45 497.9,174.3 C498.45,174.15 498.90,173.90 499.4,173.4 C499.90,172.90 500.38,171.95 500.9,171.3 C501.42,170.65 502.03,169.60 502.5,169.5 C502.97,169.40 503.27,169.52 503.7,170.7 C504.13,171.88 504.57,174.32 505.1,176.6 C505.63,178.88 506.30,182.10 506.9,184.4 C507.50,186.70 508.10,189.10 508.7,190.4 C509.30,191.70 509.90,192.10 510.5,192.2 C511.10,192.30 511.70,190.90 512.3,191 C512.90,191.10 513.42,191.92 514.1,192.8 C514.78,193.68 515.82,196.50 516.4,196.3 C516.98,196.10 517.10,194.18 517.6,191.6 C518.10,189.02 518.90,182.80 519.4,180.8 C519.90,178.80 520.20,179.00 520.6,179.6 C521.00,180.20 521.40,182.60 521.8,184.4 C522.20,186.20 522.60,188.80 523,190.4 C523.40,192.00 523.75,193.83 524.2,194 C524.65,194.17 525.18,192.38 525.7,191.4 C526.22,190.42 526.75,188.85 527.3,188.1 C527.85,187.35 528.52,186.97 529,186.9 C529.48,186.83 529.80,187.22 530.2,187.7 C530.60,188.18 530.92,188.90 531.4,189.8 C531.88,190.70 532.55,192.07 533.1,193.1 C533.65,194.13 534.15,195.38 534.7,196 C535.25,196.62 535.85,197.42 536.4,196.8 C536.95,196.18 537.52,193.27 538,192.3 C538.48,191.33 538.88,190.87 539.3,191 C539.72,191.13 540.08,192.47 540.5,193.1 C540.92,193.73 541.38,194.32 541.8,194.8 C542.22,195.28 542.52,196.42 543,196 C543.48,195.58 544.15,193.47 544.7,192.3 C545.25,191.13 545.68,189.90 546.3,189 C546.92,188.10 547.78,187.05 548.4,186.9 C549.02,186.75 549.52,187.68 550,188.1 C550.48,188.52 550.88,189.47 551.3,189.4 C551.72,189.33 552.08,188.12 552.5,187.7 C552.92,187.28 553.38,186.83 553.8,186.9 C554.22,186.97 554.60,187.48 555,188.1 C555.40,188.72 555.78,189.35 556.2,190.6 C556.62,191.85 557.08,194.08 557.5,195.6 C557.92,197.12 558.28,198.47 558.7,199.7 C559.12,200.93 559.58,202.87 560,203 C560.42,203.13 560.80,201.73 561.2,200.5 C561.60,199.27 561.93,196.90 562.4,195.6 C562.87,194.30 563.48,193.05 564,192.7 C564.52,192.35 565.08,193.23 565.5,193.5 C565.92,193.77 566.00,194.83 566.5,194.3 C567.00,193.77 567.92,192.02 568.5,190.3 C569.08,188.58 569.57,185.47 570,184 C570.43,182.53 570.68,181.17 571.1,181.5 C571.52,181.83 571.98,183.98 572.5,186 C573.02,188.02 573.70,191.43 574.2,193.6 C574.70,195.77 575.13,197.12 575.5,199 C575.87,200.88 575.92,203.70 576.4,204.9 C576.88,206.10 577.80,206.52 578.4,206.2 C579.00,205.88 579.23,203.62 580,203 C580.77,202.38 582.27,202.77 583,202.5 C583.73,202.23 583.83,201.88 584.4,201.4 C584.97,200.92 585.62,199.33 586.4,199.6 C587.18,199.87 588.27,201.78 589.1,203 C589.93,204.22 590.87,206.10 591.4,206.9 C591.93,207.70 590.38,207.65 592.3,207.8 L602.9,207.8 C605.32,207.50 605.70,207.83 606.8,206 C607.90,204.17 608.62,201.18 609.5,196.8 C610.38,192.42 611.38,183.17 612.1,179.7 C612.82,176.23 613.25,176.00 613.8,176 C614.35,176.00 614.92,177.33 615.4,179.7 C615.88,182.07 616.17,186.92 616.7,190.2 C617.23,193.48 617.83,197.43 618.6,199.4 C619.37,201.37 620.20,201.33 621.3,202 C622.40,202.67 623.88,203.17 625.2,203.4 C626.52,203.63 628.22,204.28 629.2,203.4 C630.18,202.52 630.57,199.38 631.1,198.1 C631.63,196.82 631.95,195.70 632.4,195.7 C632.85,195.70 633.25,196.60 633.8,198.1 C634.35,199.60 634.72,203.50 635.7,204.7 C636.68,205.90 637.72,205.13 639.7,205.3 C641.68,205.47 644.10,205.70 647.6,205.7 C651.10,205.70 657.63,205.68 660.7,205.3 C663.77,204.92 664.58,204.05 666,203.4 C667.42,202.75 667.90,201.63 669.2,201.4 C670.50,201.17 672.58,201.45 673.8,202 C675.02,202.55 675.52,203.82 676.5,204.7 C677.48,205.58 678.78,206.78 679.7,207.3 C680.62,207.82 681.62,207.72 682,207.8 Z" fill="#8c8c8c"/>
<rect x="488.8" y="6.5" width="193.6" height="201.5" fill="none" stroke="#1a1a1a" stroke-width="1.3"/>
<line x1="585.4" y1="7" x2="585.4" y2="207.5" stroke="#1a1a1a" stroke-width="1.15" stroke-dasharray="3.2,3.2"/>
<line x1="488.8" y1="208" x2="488.8" y2="210.3" stroke="#1a1a1a" stroke-width="1" />
<text x="486.6" y="222.6" font-size="11" fill="#1a1a1a" text-anchor="middle" font-weight="normal" >-4</text>
<line x1="537.1" y1="208" x2="537.1" y2="210.3" stroke="#1a1a1a" stroke-width="1" />
<text x="537.4" y="222.6" font-size="11" fill="#1a1a1a" text-anchor="middle" font-weight="normal" >-2</text>
<line x1="585.4" y1="208" x2="585.4" y2="210.3" stroke="#1a1a1a" stroke-width="1" />
<text x="585.4" y="222.6" font-size="11" fill="#1a1a1a" text-anchor="middle" font-weight="normal" >0</text>
<line x1="633.7" y1="208" x2="633.7" y2="210.3" stroke="#1a1a1a" stroke-width="1" />
<text x="634.9000000000001" y="222.6" font-size="11" fill="#1a1a1a" text-anchor="middle" font-weight="normal" >2</text>
<line x1="682.0" y1="208" x2="682.0" y2="210.3" stroke="#1a1a1a" stroke-width="1" />
<text x="681.4" y="222.6" font-size="11" fill="#1a1a1a" text-anchor="middle" font-weight="normal" >4</text>
<text x="592.0" y="236.6" font-size="11" fill="#1a1a1a" text-anchor="middle" font-weight="normal" >Energy (eV)</text>
<text x="0" y="0" font-size="11" fill="#1a1a1a" text-anchor="middle" transform="translate(474.2,106.2) rotate(-90)">PDOS (a.u.)</text>
<text x="498.2" y="23.6" font-size="11" fill="#1a1a1a">O 2<tspan font-style="italic">p</tspan></text>
<text x="557.2" y="79.2" font-size="11" fill="#ff0a0a" text-anchor="middle" font-weight="normal" >Zn–OH<tspan dy="-0.77" font-size="10.01">*</tspan><tspan dy="0.77">​</tspan></text>
<text x="497.6" y="163.4" font-size="11" fill="#808080" text-anchor="start" font-weight="normal" >Zn–O<tspan dy="-0.77" font-size="10.01">*</tspan><tspan dy="0.77">​</tspan>–Mo</text>
<text x="627.7" y="186.9" font-size="11" fill="#0000ff" text-anchor="start" font-weight="normal" >Mo=O<tspan dy="-0.77" font-size="10.01">*</tspan><tspan dy="0.77">​</tspan></text>
<text x="0" y="256.5" font-size="16.8" fill="#000" text-anchor="start" font-weight="bold" >c</text>
<line x1="19.7" y1="272.3" x2="35.5" y2="272.3" stroke="#0000ff" stroke-width="2" />
<text x="44.1" y="276.6" font-size="11" fill="#0000ff" text-anchor="start" font-weight="normal" >CH<tspan dy="3.08" font-size="7.92">3</tspan><tspan dy="-3.08">​</tspan>OH formation</text>
<line x1="19.7" y1="288.6" x2="35.5" y2="288.6" stroke="#ff0a0a" stroke-width="2" />
<text x="44.1" y="293.1" font-size="11" fill="#ff0a0a" text-anchor="start" font-weight="normal" >CH<tspan dy="3.08" font-size="7.92">3</tspan><tspan dy="-3.08">​</tspan>COOH formation</text>
<line x1="122" y1="380.3" x2="685" y2="380.3" stroke="#cfcfcf" stroke-width="0.7" stroke-dasharray="3,2"/>
<line x1="349.5" y1="281" x2="349.5" y2="544" stroke="#aaa" stroke-width="1" stroke-dasharray="3,2"/>
<line x1="192" y1="280.5" x2="344" y2="280.5" stroke="#1a1a1a" stroke-width="1.3" stroke-dasharray="3,1.6"/>
<path d="M187.9,280.5 L193.5,277.8 L192.3,280.5 L193.5,283.2 Z" fill="#1a1a1a" stroke="#1a1a1a" stroke-width="0.5" />
<line x1="349.5" y1="280.7" x2="504" y2="280.7" stroke="#1a1a1a" stroke-width="1.3" />
<path d="M508.5,280.7 L502.5,278 L503.8,280.7 L502.5,283.4 Z" fill="#1a1a1a" stroke="#1a1a1a" stroke-width="0.5" />
<circle cx="349.3" cy="280.7" r="5" fill="#1a1a1a"/>
<text x="239.4" y="274.8" font-size="11" fill="#1a1a1a" text-anchor="start" font-weight="normal" >at Zn–O<tspan dy="-0.77" font-size="10.01">*</tspan><tspan dy="0.77">​</tspan>–Mo site</text>
<text x="378.9" y="274.8" font-size="11" fill="#1a1a1a" text-anchor="start" font-weight="normal" >at Zn–OH<tspan dy="-0.77" font-size="10.01">*</tspan><tspan dy="0.77">​</tspan> site</text>
<line x1="626.7" y1="264.9" x2="626.7" y2="297.2" stroke="#1a1a1a" stroke-width="1.5" />
<line x1="623.4" y1="264.9" x2="629.8" y2="264.9" stroke="#1a1a1a" stroke-width="1.5" />
<line x1="623.4" y1="297.2" x2="629.8" y2="297.2" stroke="#1a1a1a" stroke-width="1.5" />
<text x="620.6" y="285.9" font-size="11" fill="#1a1a1a" text-anchor="end" font-weight="normal" >0.5 eV</text>
<text x="656" y="280.5" font-size="11" fill="#1a1a1a" text-anchor="middle" font-weight="normal" >Energy</text>
<text x="656" y="293.8" font-size="11" fill="#1a1a1a" text-anchor="middle" font-weight="normal" >scale bar</text>
<path d="M56.1,384.3 L98.2,384.3 L115.7,382.5 L181.7,382 C187.3,349.6 187.2,301.2 203.7,301.2 C214.6,301.2 218.3,341.1 224,366.1 L265.4,366 C271.3,341.3 275.6,323.4 284.5,323.4 C293.8,323.4 303.3,358.4 307.3,380.1 L349.5,380.1" fill="none" stroke="#0000ff" stroke-width="1.9" />
<path d="M14.6,450.8 L57.7,450.8" fill="none" stroke="#ff0a0a" stroke-width="1.9" />
<line x1="57.7" y1="450.8" x2="139.3" y2="357.1" stroke="#ff0a0a" stroke-width="1.9" stroke-dasharray="0.1,4.45" stroke-dashoffset="-2.6" stroke-linecap="round"/>
<path d="M139.3,357.1 L182,357.1 C185.4,335.9 188.6,294.4 201.9,294.4 C214.4,294.4 220.2,332.5 224,366.1" fill="none" stroke="#ff0a0a" stroke-width="1.9" />
<path d="M349.5,380.1 L390,380 C393.6,362.5 398.9,336.0 409.7,336 C421.9,336.0 424.7,363.2 432,391.5 L473.5,391.5 L494.4,413.9 L536.4,413.9 L556.8,443.8 L598.3,443.8 C600.8,442.4 602.2,435.9 609,435.9 C624.1,435.9 634.7,475.7 640.4,507.3 L682.6,507.3" fill="none" stroke="#ff0a0a" stroke-width="1.9" />
<path d="M390,380 C394.7,344.6 397.4,297.4 408.8,297.4 C421.1,297.4 424.5,357.0 432.5,423.6 L474.4,423.6 L494.2,440.7 L536.4,440.7" fill="none" stroke="#0000ff" stroke-width="1.9" />
<text x="71.4" y="376.3" font-size="11" fill="#0000ff" text-anchor="middle" font-weight="normal" >CO<tspan dy="-0.77" font-size="10.01">*</tspan><tspan dy="0.77">​</tspan> + CH<tspan dy="3.08" font-size="7.92">3</tspan><tspan dy="-3.08">​</tspan>OH</text>
<text x="161.6" y="368.4" font-size="11" fill="#ff0a0a" text-anchor="middle" font-weight="normal" >3</text>
<text x="161.6" y="394.6" font-size="11" fill="#0000ff" text-anchor="middle" font-weight="normal" >3</text>
<text x="160" y="337.4" font-size="11" fill="#ff0a0a" text-anchor="middle" font-weight="normal" >CH<tspan dy="3.08" font-size="7.92">3</tspan><tspan dy="-3.08">​</tspan>CO<tspan dy="-0.77" font-size="10.01">*</tspan><tspan dy="0.77">​</tspan></text>
<text x="160" y="350.5" font-size="11" fill="#ff0a0a" text-anchor="middle" font-weight="normal" >+ OH<tspan dy="-0.77" font-size="10.01">*</tspan><tspan dy="0.77">​</tspan></text>
<text x="71.6" y="409.6" font-size="11" fill="#ff0a0a" text-anchor="middle" font-weight="normal" >CO(g)</text>
<text x="44.4" y="466.8" font-size="11" fill="#ff0a0a" text-anchor="middle" font-weight="normal" >CO<tspan dy="-0.77" font-size="10.01">*</tspan><tspan dy="0.77">​</tspan> +</text>
<text x="42.6" y="480.0" font-size="11" fill="#ff0a0a" text-anchor="middle" font-weight="normal" >CH<tspan dy="3.08" font-size="7.92">3</tspan><tspan dy="-3.08">​</tspan>COOH</text>
<text x="159.4" y="414.3" font-size="11" fill="#0000ff" text-anchor="middle" font-weight="normal" >CO<tspan dy="-0.77" font-size="10.01">*</tspan><tspan dy="0.77">​</tspan> + CH<tspan dy="3.08" font-size="7.92">3</tspan><tspan dy="-3.08">​</tspan>OH<tspan dy="-0.77" font-size="10.01">*</tspan><tspan dy="0.77">​</tspan></text>
<text x="218.3" y="311.0" font-size="11" fill="#ff0a0a" text-anchor="start" font-weight="normal" >1.13</text>
<text x="194.4" y="342.8" font-size="11" fill="#0000ff" text-anchor="start" font-weight="normal" >1.02</text>
<text x="293.8" y="327.7" font-size="11" fill="#0000ff" text-anchor="start" font-weight="normal" >0.90</text>
<text x="245.5" y="360.9" font-size="11" fill="#0000ff" text-anchor="middle" font-weight="normal" >2</text>
<text x="245.6" y="379.9" font-size="11" fill="#0000ff" text-anchor="middle" font-weight="normal" >CO<tspan dy="-0.77" font-size="10.01">*</tspan><tspan dy="0.77">​</tspan> + CH<tspan dy="3.08" font-size="7.92">3</tspan><tspan dy="-3.08">​</tspan><tspan dy="-0.77" font-size="10.01">*</tspan><tspan dy="0.77">​</tspan></text>
<text x="246.4" y="393.0" font-size="11" fill="#0000ff" text-anchor="middle" font-weight="normal" >+ OH<tspan dy="-0.77" font-size="10.01">*</tspan><tspan dy="0.77">​</tspan></text>
<text x="326.1" y="375.1" font-size="11" fill="#0000ff" text-anchor="middle" font-weight="normal" >1</text>
<text x="368.7" y="375.1" font-size="11" fill="#ff0a0a" text-anchor="middle" font-weight="normal" >1</text>
<text x="345.4" y="395.1" font-size="11" fill="#0000ff" text-anchor="end" font-weight="normal" >CH<tspan dy="3.08" font-size="7.92">4</tspan><tspan dy="-3.08">​</tspan>(g)</text>
<text x="343.8" y="408.3" font-size="11" fill="#0000ff" text-anchor="end" font-weight="normal" >+ CO<tspan dy="-0.77" font-size="10.01">*</tspan><tspan dy="0.77">​</tspan></text>
<text x="343" y="421.6" font-size="11" fill="#0000ff" text-anchor="end" font-weight="normal" >+ O<tspan dy="-0.77" font-size="10.01">*</tspan><tspan dy="0.77">​</tspan></text>
<text x="370.5" y="395.1" font-size="11" fill="#ff0a0a" text-anchor="middle" font-weight="normal" >CH<tspan dy="3.08" font-size="7.92">4</tspan><tspan dy="-3.08">​</tspan>(g)</text>
<text x="370.9" y="408.3" font-size="11" fill="#ff0a0a" text-anchor="middle" font-weight="normal" >+ CO<tspan dy="-0.77" font-size="10.01">*</tspan><tspan dy="0.77">​</tspan></text>
<text x="370.9" y="421.6" font-size="11" fill="#ff0a0a" text-anchor="middle" font-weight="normal" >+ OH<tspan dy="-0.77" font-size="10.01">*</tspan><tspan dy="0.77">​</tspan></text>
<text x="370.7" y="434.5" font-size="11" fill="#ff0a0a" text-anchor="middle" font-weight="normal" >+ O<tspan dy="-0.77" font-size="10.01">*</tspan><tspan dy="0.77">​</tspan></text>
<text x="374.7" y="310.5" font-size="11" fill="#0000ff" text-anchor="start" font-weight="normal" >1.30</text>
<text x="396.9" y="363.5" font-size="11" fill="#ff0a0a" text-anchor="start" font-weight="normal" >0.70</text>
<text x="450.2" y="357.5" font-size="11" fill="#ff0a0a" text-anchor="middle" font-weight="normal" >CH<tspan dy="3.08" font-size="7.92">3</tspan><tspan dy="-3.08">​</tspan>CO<tspan dy="-0.77" font-size="10.01">*</tspan><tspan dy="0.77">​</tspan></text>
<text x="450.2" y="371.0" font-size="11" fill="#ff0a0a" text-anchor="middle" font-weight="normal" >+ H<tspan dy="3.08" font-size="7.92">2</tspan><tspan dy="-3.08">​</tspan>O<tspan dy="-0.77" font-size="10.01">*</tspan><tspan dy="0.77">​</tspan></text>
<text x="450.7" y="384.1" font-size="11" fill="#ff0a0a" text-anchor="middle" font-weight="normal" >+ O<tspan dy="-0.77" font-size="10.01">*</tspan><tspan dy="0.77">​</tspan></text>
<text x="492.8" y="382.9" font-size="11" fill="#ff0a0a" text-anchor="middle" font-weight="normal" >H<tspan dy="3.08" font-size="7.92">2</tspan><tspan dy="-3.08">​</tspan>O</text>
<text x="451" y="402.8" font-size="11" fill="#ff0a0a" text-anchor="middle" font-weight="normal" >2</text>
<text x="471.9" y="414.8" font-size="11" fill="#ff0a0a" text-anchor="middle" font-weight="normal" >H<tspan dy="-3.96" font-size="6.82">+</tspan><tspan dy="3.96">​</tspan> + e<tspan dy="-3.96" font-size="6.82">-</tspan><tspan dy="3.96">​</tspan></text>
<text x="523" y="394.9" font-size="11" fill="#ff0a0a" text-anchor="middle" font-weight="normal" >CH<tspan dy="3.08" font-size="7.92">3</tspan><tspan dy="-3.08">​</tspan>CO<tspan dy="-0.77" font-size="10.01">*</tspan><tspan dy="0.77">​</tspan></text>
<text x="523.2" y="407.9" font-size="11" fill="#ff0a0a" text-anchor="middle" font-weight="normal" >+ OH<tspan dy="-0.77" font-size="10.01">*</tspan><tspan dy="0.77">​</tspan></text>
<text x="514.6" y="424.0" font-size="11" fill="#ff0a0a" text-anchor="middle" font-weight="normal" >3</text>
<text x="454.8" y="439.6" font-size="11" fill="#0000ff" text-anchor="middle" font-weight="normal" >CO<tspan dy="-0.77" font-size="10.01">*</tspan><tspan dy="0.77">​</tspan></text>
<text x="454.8" y="452.5" font-size="11" fill="#0000ff" text-anchor="middle" font-weight="normal" >+ OH<tspan dy="-0.77" font-size="10.01">*</tspan><tspan dy="0.77">​</tspan></text>
<text x="455.2" y="465.7" font-size="11" fill="#0000ff" text-anchor="middle" font-weight="normal" >+ CH<tspan dy="3.08" font-size="7.92">3</tspan><tspan dy="-3.08">​</tspan>OH</text>
<text x="518.2" y="455.0" font-size="11" fill="#0000ff" text-anchor="middle" font-weight="normal" >CO<tspan dy="-0.77" font-size="10.01">*</tspan><tspan dy="0.77">​</tspan> +</text>
<text x="518.2" y="467.9" font-size="11" fill="#0000ff" text-anchor="middle" font-weight="normal" >H<tspan dy="3.08" font-size="7.92">2</tspan><tspan dy="-3.08">​</tspan>O +</text>
<text x="518.2" y="481.1" font-size="11" fill="#0000ff" text-anchor="middle" font-weight="normal" >CH<tspan dy="3.08" font-size="7.92">3</tspan><tspan dy="-3.08">​</tspan>OH</text>
<text x="562.4" y="415.0" font-size="11" fill="#ff0a0a" text-anchor="middle" font-weight="normal" >CO(g)</text>
<text x="576.4" y="439.1" font-size="11" fill="#ff0a0a" text-anchor="middle" font-weight="normal" >4</text>
<text x="609.8" y="429.2" font-size="11" fill="#ff0a0a" text-anchor="middle" font-weight="normal" >0.13</text>
<text x="579.3" y="457.9" font-size="11" fill="#ff0a0a" text-anchor="middle" font-weight="normal" >CO<tspan dy="-0.77" font-size="10.01">*</tspan><tspan dy="0.77">​</tspan>+</text>
<text x="579.4" y="471.0" font-size="11" fill="#ff0a0a" text-anchor="middle" font-weight="normal" >CH<tspan dy="3.08" font-size="7.92">3</tspan><tspan dy="-3.08">​</tspan>CO<tspan dy="-0.77" font-size="10.01">*</tspan><tspan dy="0.77">​</tspan></text>
<text x="579.6" y="483.8" font-size="11" fill="#ff0a0a" text-anchor="middle" font-weight="normal" >+ OH<tspan dy="-0.77" font-size="10.01">*</tspan><tspan dy="0.77">​</tspan></text>
<text x="653.1" y="520.0" font-size="11" fill="#ff0a0a" text-anchor="middle" font-weight="normal" >CO<tspan dy="-0.77" font-size="10.01">*</tspan><tspan dy="0.77">​</tspan> +</text>
<text x="651.3" y="533.3" font-size="11" fill="#ff0a0a" text-anchor="middle" font-weight="normal" >CH<tspan dy="3.08" font-size="7.92">3</tspan><tspan dy="-3.08">​</tspan>COOH</text>
<rect x="55.4" y="309.7" width="77.29999999999998" height="37.60000000000002" fill="none" stroke="#ff0a0a" stroke-width="1.2" stroke-dasharray="3.2,2.2"/>
<rect x="119.4" y="423.6" width="76.19999999999999" height="37.19999999999999" fill="none" stroke="#0000ff" stroke-width="1.2" stroke-dasharray="3.2,2.2"/>
<rect x="209.1" y="405.5" width="78.1" height="37.69999999999999" fill="none" stroke="#0000ff" stroke-width="1.2" stroke-dasharray="3.2,2.2"/>
<rect x="266.7" y="472.7" width="76.60000000000002" height="38.400000000000034" fill="none" stroke="#0000ff" stroke-width="1.2" stroke-dasharray="3.2,2.2"/>
<rect x="356.3" y="472.4" width="77.19999999999999" height="38.400000000000034" fill="none" stroke="#ff0a0a" stroke-width="1.2" stroke-dasharray="3.2,2.2"/>
<rect x="440.6" y="300.6" width="72.60000000000002" height="37.799999999999955" fill="none" stroke="#ff0a0a" stroke-width="1.2" stroke-dasharray="3.2,2.2"/>
<rect x="527.4" y="337.4" width="76.80000000000007" height="37.60000000000002" fill="none" stroke="#ff0a0a" stroke-width="1.2" stroke-dasharray="3.2,2.2"/>
<rect x="533.5" y="493.9" width="80.60000000000002" height="38.10000000000002" fill="none" stroke="#ff0a0a" stroke-width="1.2" stroke-dasharray="3.2,2.2"/>
<line x1="61.1" y1="337.7" x2="66.35" y2="339.80" stroke="#20b0b0" stroke-width="1.7"/>
<line x1="66.35" y1="339.80" x2="71.6" y2="341.9" stroke="#e8d800" stroke-width="1.7"/>
<line x1="71.6" y1="341.9" x2="76.65" y2="340.00" stroke="#e8d800" stroke-width="1.7"/>
<line x1="76.65" y1="340.00" x2="81.7" y2="338.1" stroke="#f07810" stroke-width="1.7"/>
<line x1="81.7" y1="338.1" x2="87.10" y2="339.70" stroke="#f07810" stroke-width="1.7"/>
<line x1="87.10" y1="339.70" x2="92.5" y2="341.3" stroke="#e8d800" stroke-width="1.7"/>
<line x1="92.5" y1="341.3" x2="98.20" y2="339.35" stroke="#e8d800" stroke-width="1.7"/>
<line x1="98.20" y1="339.35" x2="103.9" y2="337.4" stroke="#ff00ff" stroke-width="1.7"/>
<line x1="103.9" y1="337.4" x2="109.85" y2="339.65" stroke="#ff00ff" stroke-width="1.7"/>
<line x1="109.85" y1="339.65" x2="115.8" y2="341.9" stroke="#e8d800" stroke-width="1.7"/>
<line x1="115.8" y1="341.9" x2="121.05" y2="339.65" stroke="#e8d800" stroke-width="1.7"/>
<line x1="121.05" y1="339.65" x2="126.3" y2="337.4" stroke="#20b0b0" stroke-width="1.7"/>
<line x1="81.7" y1="338.1" x2="82.50" y2="332.65" stroke="#f07810" stroke-width="1.7"/>
<line x1="82.50" y1="332.65" x2="83.3" y2="327.2" stroke="#808080" stroke-width="1.7"/>
<line x1="83.3" y1="327.2" x2="82.30" y2="324.90" stroke="#808080" stroke-width="1.7"/>
<line x1="82.30" y1="324.90" x2="81.3" y2="322.6" stroke="#808080" stroke-width="1.7"/>
<line x1="83.3" y1="327.2" x2="84.95" y2="325.30" stroke="#808080" stroke-width="1.7"/>
<line x1="84.95" y1="325.30" x2="86.6" y2="323.4" stroke="#ff0000" stroke-width="1.7"/>
<line x1="81.3" y1="322.6" x2="81.80" y2="319.70" stroke="#808080" stroke-width="1.7"/>
<line x1="81.80" y1="319.70" x2="82.3" y2="316.8" stroke="#d8d8d8" stroke-width="1.7"/>
<line x1="81.3" y1="322.6" x2="77.80" y2="323.30" stroke="#808080" stroke-width="1.7"/>
<line x1="77.80" y1="323.30" x2="74.3" y2="324" stroke="#d8d8d8" stroke-width="1.7"/>
<line x1="103.9" y1="337.4" x2="110.45" y2="333.20" stroke="#ff00ff" stroke-width="1.7"/>
<line x1="110.45" y1="333.20" x2="117" y2="329" stroke="#ff0000" stroke-width="1.7"/>
<line x1="117" y1="329" x2="121.65" y2="333.20" stroke="#ff0000" stroke-width="1.7"/>
<line x1="121.65" y1="333.20" x2="126.3" y2="337.4" stroke="#20b0b0" stroke-width="1.7"/>
<line x1="117" y1="329" x2="117.80" y2="326.60" stroke="#ff0000" stroke-width="1.7"/>
<line x1="117.80" y1="326.60" x2="118.6" y2="324.2" stroke="#d8d8d8" stroke-width="1.7"/>
<line x1="61.1" y1="337.7" x2="57" y2="331" stroke="#20b0b0" stroke-width="1.7"/>
<line x1="126.3" y1="337.4" x2="131.6" y2="331.7" stroke="#20b0b0" stroke-width="1.7"/>
<line x1="126.3" y1="337.4" x2="131.6" y2="342" stroke="#20b0b0" stroke-width="1.7"/>
<line x1="71.6" y1="341.9" x2="71.6" y2="347.4" stroke="#e8d800" stroke-width="1.7"/>
<line x1="92.5" y1="341.3" x2="92.5" y2="346.8" stroke="#e8d800" stroke-width="1.7"/>
<line x1="115.8" y1="341.9" x2="115.8" y2="347.4" stroke="#e8d800" stroke-width="1.7"/>
<circle cx="61.1" cy="337.7" r="4.4" fill="url(#gMo)"/>
<circle cx="71.6" cy="341.9" r="2.6" fill="url(#gS)"/>
<circle cx="81.7" cy="338.1" r="4.4" fill="url(#gRh)"/>
<circle cx="92.5" cy="341.3" r="2.6" fill="url(#gS)"/>
<circle cx="103.9" cy="337.4" r="4.4" fill="url(#gZn)"/>
<circle cx="115.8" cy="341.9" r="2.6" fill="url(#gS)"/>
<circle cx="126.3" cy="337.4" r="4.4" fill="url(#gMo)"/>
<circle cx="83.3" cy="327.2" r="2.7" fill="url(#gC)"/>
<circle cx="81.3" cy="322.6" r="2.7" fill="url(#gC)"/>
<circle cx="86.6" cy="323.4" r="2.6" fill="url(#gO)"/>
<circle cx="82.3" cy="316.8" r="2.5" fill="url(#gH)"/>
<circle cx="74.3" cy="324" r="2.5" fill="url(#gH)"/>
<circle cx="117" cy="329" r="2.6" fill="url(#gO)"/>
<circle cx="118.6" cy="324.2" r="2.5" fill="url(#gH)"/>
<line x1="124.1" y1="451.4" x2="129.35" y2="453.55" stroke="#20b0b0" stroke-width="1.7"/>
<line x1="129.35" y1="453.55" x2="134.6" y2="455.7" stroke="#e8d800" stroke-width="1.7"/>
<line x1="134.6" y1="455.7" x2="139.65" y2="453.70" stroke="#e8d800" stroke-width="1.7"/>
<line x1="139.65" y1="453.70" x2="144.7" y2="451.7" stroke="#f07810" stroke-width="1.7"/>
<line x1="144.7" y1="451.7" x2="150.10" y2="453.50" stroke="#f07810" stroke-width="1.7"/>
<line x1="150.10" y1="453.50" x2="155.5" y2="455.3" stroke="#e8d800" stroke-width="1.7"/>
<line x1="155.5" y1="455.3" x2="161.00" y2="453.35" stroke="#e8d800" stroke-width="1.7"/>
<line x1="161.00" y1="453.35" x2="166.5" y2="451.4" stroke="#ff00ff" stroke-width="1.7"/>
<line x1="166.5" y1="451.4" x2="172.35" y2="453.65" stroke="#ff00ff" stroke-width="1.7"/>
<line x1="172.35" y1="453.65" x2="178.2" y2="455.9" stroke="#e8d800" stroke-width="1.7"/>
<line x1="178.2" y1="455.9" x2="183.50" y2="453.40" stroke="#e8d800" stroke-width="1.7"/>
<line x1="183.50" y1="453.40" x2="188.8" y2="450.9" stroke="#20b0b0" stroke-width="1.7"/>
<line x1="144.7" y1="451.7" x2="145.60" y2="446.50" stroke="#f07810" stroke-width="1.7"/>
<line x1="145.60" y1="446.50" x2="146.5" y2="441.3" stroke="#808080" stroke-width="1.7"/>
<line x1="146.5" y1="441.3" x2="147.30" y2="437.70" stroke="#808080" stroke-width="1.7"/>
<line x1="147.30" y1="437.70" x2="148.1" y2="434.1" stroke="#ff0000" stroke-width="1.7"/>
<line x1="188.8" y1="450.9" x2="184.40" y2="445.05" stroke="#20b0b0" stroke-width="1.7"/>
<line x1="184.40" y1="445.05" x2="180" y2="439.2" stroke="#ff0000" stroke-width="1.7"/>
<line x1="180" y1="439.2" x2="178.80" y2="437.00" stroke="#ff0000" stroke-width="1.7"/>
<line x1="178.80" y1="437.00" x2="177.6" y2="434.8" stroke="#808080" stroke-width="1.7"/>
<line x1="177.6" y1="434.8" x2="175.85" y2="432.30" stroke="#808080" stroke-width="1.7"/>
<line x1="175.85" y1="432.30" x2="174.1" y2="429.8" stroke="#d8d8d8" stroke-width="1.7"/>
<line x1="177.6" y1="434.8" x2="180.60" y2="433.70" stroke="#808080" stroke-width="1.7"/>
<line x1="180.60" y1="433.70" x2="183.6" y2="432.6" stroke="#d8d8d8" stroke-width="1.7"/>
<line x1="177.6" y1="434.8" x2="176.15" y2="436.90" stroke="#808080" stroke-width="1.7"/>
<line x1="176.15" y1="436.90" x2="174.7" y2="439" stroke="#d8d8d8" stroke-width="1.7"/>
<line x1="177.6" y1="434.8" x2="179.10" y2="432.50" stroke="#808080" stroke-width="1.7"/>
<line x1="179.10" y1="432.50" x2="180.6" y2="430.2" stroke="#d8d8d8" stroke-width="1.7"/>
<line x1="124.1" y1="451.4" x2="120.2" y2="444.5" stroke="#20b0b0" stroke-width="1.7"/>
<line x1="188.8" y1="450.9" x2="194.4" y2="444.5" stroke="#20b0b0" stroke-width="1.7"/>
<line x1="188.8" y1="450.9" x2="194.4" y2="454.7" stroke="#20b0b0" stroke-width="1.7"/>
<line x1="134.6" y1="455.7" x2="134.6" y2="461.2" stroke="#e8d800" stroke-width="1.7"/>
<line x1="155.5" y1="455.3" x2="155.5" y2="460.8" stroke="#e8d800" stroke-width="1.7"/>
<line x1="178.2" y1="455.9" x2="178.2" y2="461.4" stroke="#e8d800" stroke-width="1.7"/>
<circle cx="124.1" cy="451.4" r="4.4" fill="url(#gMo)"/>
<circle cx="134.6" cy="455.7" r="2.6" fill="url(#gS)"/>
<circle cx="144.7" cy="451.7" r="4.4" fill="url(#gRh)"/>
<circle cx="155.5" cy="455.3" r="2.6" fill="url(#gS)"/>
<circle cx="166.5" cy="451.4" r="4.4" fill="url(#gZn)"/>
<circle cx="178.2" cy="455.9" r="2.6" fill="url(#gS)"/>
<circle cx="188.8" cy="450.9" r="4.4" fill="url(#gMo)"/>
<circle cx="146.5" cy="441.3" r="2.7" fill="url(#gC)"/>
<circle cx="148.1" cy="434.1" r="2.6" fill="url(#gO)"/>
<circle cx="180" cy="439.2" r="2.6" fill="url(#gO)"/>
<circle cx="177.6" cy="434.8" r="2.7" fill="url(#gC)"/>
<circle cx="174.1" cy="429.8" r="2.5" fill="url(#gH)"/>
<circle cx="183.6" cy="432.6" r="2.5" fill="url(#gH)"/>
<circle cx="174.7" cy="439" r="2.5" fill="url(#gH)"/>
<circle cx="180.6" cy="430.2" r="2.5" fill="url(#gH)"/>
<line x1="214.2" y1="434.1" x2="219.50" y2="436.30" stroke="#20b0b0" stroke-width="1.7"/>
<line x1="219.50" y1="436.30" x2="224.8" y2="438.5" stroke="#e8d800" stroke-width="1.7"/>
<line x1="224.8" y1="438.5" x2="229.75" y2="436.60" stroke="#e8d800" stroke-width="1.7"/>
<line x1="229.75" y1="436.60" x2="234.7" y2="434.7" stroke="#f07810" stroke-width="1.7"/>
<line x1="234.7" y1="434.7" x2="240.35" y2="436.40" stroke="#f07810" stroke-width="1.7"/>
<line x1="240.35" y1="436.40" x2="246" y2="438.1" stroke="#e8d800" stroke-width="1.7"/>
<line x1="246" y1="438.1" x2="251.70" y2="436.10" stroke="#e8d800" stroke-width="1.7"/>
<line x1="251.70" y1="436.10" x2="257.4" y2="434.1" stroke="#ff00ff" stroke-width="1.7"/>
<line x1="257.4" y1="434.1" x2="263.35" y2="436.45" stroke="#ff00ff" stroke-width="1.7"/>
<line x1="263.35" y1="436.45" x2="269.3" y2="438.8" stroke="#e8d800" stroke-width="1.7"/>
<line x1="269.3" y1="438.8" x2="274.65" y2="436.00" stroke="#e8d800" stroke-width="1.7"/>
<line x1="274.65" y1="436.00" x2="280" y2="433.2" stroke="#20b0b0" stroke-width="1.7"/>
<line x1="234.7" y1="434.7" x2="234.70" y2="429.30" stroke="#f07810" stroke-width="1.7"/>
<line x1="234.70" y1="429.30" x2="234.7" y2="423.9" stroke="#808080" stroke-width="1.7"/>
<line x1="234.7" y1="423.9" x2="234.70" y2="420.55" stroke="#808080" stroke-width="1.7"/>
<line x1="234.70" y1="420.55" x2="234.7" y2="417.2" stroke="#ff0000" stroke-width="1.7"/>
<line x1="257.4" y1="434.1" x2="257.00" y2="427.85" stroke="#ff00ff" stroke-width="1.7"/>
<line x1="257.00" y1="427.85" x2="256.6" y2="421.6" stroke="#808080" stroke-width="1.7"/>
<line x1="256.6" y1="421.6" x2="253.50" y2="421.45" stroke="#808080" stroke-width="1.7"/>
<line x1="253.50" y1="421.45" x2="250.4" y2="421.3" stroke="#d8d8d8" stroke-width="1.7"/>
<line x1="256.6" y1="421.6" x2="259.70" y2="421.05" stroke="#808080" stroke-width="1.7"/>
<line x1="259.70" y1="421.05" x2="262.8" y2="420.5" stroke="#d8d8d8" stroke-width="1.7"/>
<line x1="256.6" y1="421.6" x2="256.60" y2="420.00" stroke="#808080" stroke-width="1.7"/>
<line x1="256.60" y1="420.00" x2="256.6" y2="418.4" stroke="#d8d8d8" stroke-width="1.7"/>
<line x1="280" y1="433.2" x2="277.60" y2="428.50" stroke="#20b0b0" stroke-width="1.7"/>
<line x1="277.60" y1="428.50" x2="275.2" y2="423.8" stroke="#ff0000" stroke-width="1.7"/>
<line x1="275.2" y1="423.8" x2="276.80" y2="421.20" stroke="#ff0000" stroke-width="1.7"/>
<line x1="276.80" y1="421.20" x2="278.4" y2="418.6" stroke="#d8d8d8" stroke-width="1.7"/>
<line x1="214.2" y1="434.1" x2="210" y2="429" stroke="#20b0b0" stroke-width="1.7"/>
<line x1="280" y1="433.2" x2="286.5" y2="429" stroke="#20b0b0" stroke-width="1.7"/>
<line x1="280" y1="433.2" x2="286.5" y2="438" stroke="#20b0b0" stroke-width="1.7"/>
<line x1="224.8" y1="438.5" x2="224.8" y2="444.0" stroke="#e8d800" stroke-width="1.7"/>
<line x1="246" y1="438.1" x2="246" y2="443.6" stroke="#e8d800" stroke-width="1.7"/>
<line x1="269.3" y1="438.8" x2="269.3" y2="444.3" stroke="#e8d800" stroke-width="1.7"/>
<circle cx="214.2" cy="434.1" r="4.4" fill="url(#gMo)"/>
<circle cx="224.8" cy="438.5" r="2.6" fill="url(#gS)"/>
<circle cx="234.7" cy="434.7" r="4.4" fill="url(#gRh)"/>
<circle cx="246" cy="438.1" r="2.6" fill="url(#gS)"/>
<circle cx="257.4" cy="434.1" r="4.4" fill="url(#gZn)"/>
<circle cx="269.3" cy="438.8" r="2.6" fill="url(#gS)"/>
<circle cx="280" cy="433.2" r="4.4" fill="url(#gMo)"/>
<circle cx="234.7" cy="423.9" r="2.7" fill="url(#gC)"/>
<circle cx="234.7" cy="417.2" r="2.6" fill="url(#gO)"/>
<circle cx="256.6" cy="421.6" r="2.7" fill="url(#gC)"/>
<circle cx="250.4" cy="421.3" r="2.5" fill="url(#gH)"/>
<circle cx="262.8" cy="420.5" r="2.5" fill="url(#gH)"/>
<circle cx="256.6" cy="418.4" r="2.5" fill="url(#gH)"/>
<circle cx="275.2" cy="423.8" r="2.6" fill="url(#gO)"/>
<circle cx="278.4" cy="418.6" r="2.5" fill="url(#gH)"/>
<line x1="272.2" y1="500.9" x2="277.45" y2="503.10" stroke="#20b0b0" stroke-width="1.7"/>
<line x1="277.45" y1="503.10" x2="282.7" y2="505.3" stroke="#e8d800" stroke-width="1.7"/>
<line x1="282.7" y1="505.3" x2="287.85" y2="503.30" stroke="#e8d800" stroke-width="1.7"/>
<line x1="287.85" y1="503.30" x2="293" y2="501.3" stroke="#f07810" stroke-width="1.7"/>
<line x1="293" y1="501.3" x2="298.30" y2="502.75" stroke="#f07810" stroke-width="1.7"/>
<line x1="298.30" y1="502.75" x2="303.6" y2="504.2" stroke="#e8d800" stroke-width="1.7"/>
<line x1="303.6" y1="504.2" x2="309.25" y2="502.40" stroke="#e8d800" stroke-width="1.7"/>
<line x1="309.25" y1="502.40" x2="314.9" y2="500.6" stroke="#ff00ff" stroke-width="1.7"/>
<line x1="314.9" y1="500.6" x2="320.70" y2="503.15" stroke="#ff00ff" stroke-width="1.7"/>
<line x1="320.70" y1="503.15" x2="326.5" y2="505.7" stroke="#e8d800" stroke-width="1.7"/>
<line x1="326.5" y1="505.7" x2="332.00" y2="502.55" stroke="#e8d800" stroke-width="1.7"/>
<line x1="332.00" y1="502.55" x2="337.5" y2="499.4" stroke="#20b0b0" stroke-width="1.7"/>
<line x1="293" y1="501.3" x2="293.20" y2="495.60" stroke="#f07810" stroke-width="1.7"/>
<line x1="293.20" y1="495.60" x2="293.4" y2="489.9" stroke="#808080" stroke-width="1.7"/>
<line x1="293.4" y1="489.9" x2="293.70" y2="486.25" stroke="#808080" stroke-width="1.7"/>
<line x1="293.70" y1="486.25" x2="294" y2="482.6" stroke="#ff0000" stroke-width="1.7"/>
<line x1="314.9" y1="500.6" x2="320.70" y2="496.50" stroke="#ff00ff" stroke-width="1.7"/>
<line x1="320.70" y1="496.50" x2="326.5" y2="492.4" stroke="#ff0000" stroke-width="1.7"/>
<line x1="326.5" y1="492.4" x2="332.00" y2="495.90" stroke="#ff0000" stroke-width="1.7"/>
<line x1="332.00" y1="495.90" x2="337.5" y2="499.4" stroke="#20b0b0" stroke-width="1.7"/>
<line x1="272.2" y1="500.9" x2="268" y2="494.5" stroke="#20b0b0" stroke-width="1.7"/>
<line x1="337.5" y1="499.4" x2="342.5" y2="494" stroke="#20b0b0" stroke-width="1.7"/>
<line x1="337.5" y1="499.4" x2="342.5" y2="504" stroke="#20b0b0" stroke-width="1.7"/>
<line x1="282.7" y1="505.3" x2="282.7" y2="510.8" stroke="#e8d800" stroke-width="1.7"/>
<line x1="303.6" y1="504.2" x2="303.6" y2="509.7" stroke="#e8d800" stroke-width="1.7"/>
<line x1="326.5" y1="505.7" x2="326.5" y2="511.2" stroke="#e8d800" stroke-width="1.7"/>
<circle cx="272.2" cy="500.9" r="4.4" fill="url(#gMo)"/>
<circle cx="282.7" cy="505.3" r="2.6" fill="url(#gS)"/>
<circle cx="293" cy="501.3" r="4.4" fill="url(#gRh)"/>
<circle cx="303.6" cy="504.2" r="2.6" fill="url(#gS)"/>
<circle cx="314.9" cy="500.6" r="4.4" fill="url(#gZn)"/>
<circle cx="326.5" cy="505.7" r="2.6" fill="url(#gS)"/>
<circle cx="337.5" cy="499.4" r="4.4" fill="url(#gMo)"/>
<circle cx="293.4" cy="489.9" r="2.7" fill="url(#gC)"/>
<circle cx="294" cy="482.6" r="2.6" fill="url(#gO)"/>
<circle cx="326.5" cy="492.4" r="2.6" fill="url(#gO)"/>
<line x1="361" y1="499.1" x2="366.30" y2="501.45" stroke="#20b0b0" stroke-width="1.7"/>
<line x1="366.30" y1="501.45" x2="371.6" y2="503.8" stroke="#e8d800" stroke-width="1.7"/>
<line x1="371.6" y1="503.8" x2="376.70" y2="501.60" stroke="#e8d800" stroke-width="1.7"/>
<line x1="376.70" y1="501.60" x2="381.8" y2="499.4" stroke="#f07810" stroke-width="1.7"/>
<line x1="381.8" y1="499.4" x2="387.30" y2="501.40" stroke="#f07810" stroke-width="1.7"/>
<line x1="387.30" y1="501.40" x2="392.8" y2="503.4" stroke="#e8d800" stroke-width="1.7"/>
<line x1="392.8" y1="503.4" x2="398.40" y2="501.25" stroke="#e8d800" stroke-width="1.7"/>
<line x1="398.40" y1="501.25" x2="404" y2="499.1" stroke="#ff00ff" stroke-width="1.7"/>
<line x1="404" y1="499.1" x2="410.00" y2="501.45" stroke="#ff00ff" stroke-width="1.7"/>
<line x1="410.00" y1="501.45" x2="416" y2="503.8" stroke="#e8d800" stroke-width="1.7"/>
<line x1="416" y1="503.8" x2="421.10" y2="501.00" stroke="#e8d800" stroke-width="1.7"/>
<line x1="421.10" y1="501.00" x2="426.2" y2="498.2" stroke="#20b0b0" stroke-width="1.7"/>
<line x1="381.8" y1="499.4" x2="381.95" y2="493.55" stroke="#f07810" stroke-width="1.7"/>
<line x1="381.95" y1="493.55" x2="382.1" y2="487.7" stroke="#808080" stroke-width="1.7"/>
<line x1="382.1" y1="487.7" x2="382.10" y2="483.90" stroke="#808080" stroke-width="1.7"/>
<line x1="382.10" y1="483.90" x2="382.1" y2="480.1" stroke="#ff0000" stroke-width="1.7"/>
<line x1="404" y1="499.1" x2="402.55" y2="493.05" stroke="#ff00ff" stroke-width="1.7"/>
<line x1="402.55" y1="493.05" x2="401.1" y2="487" stroke="#ff0000" stroke-width="1.7"/>
<line x1="401.1" y1="487" x2="403.65" y2="485.20" stroke="#ff0000" stroke-width="1.7"/>
<line x1="403.65" y1="485.20" x2="406.2" y2="483.4" stroke="#d8d8d8" stroke-width="1.7"/>
<line x1="418.9" y1="487" x2="422.55" y2="492.60" stroke="#ff0000" stroke-width="1.7"/>
<line x1="422.55" y1="492.60" x2="426.2" y2="498.2" stroke="#20b0b0" stroke-width="1.7"/>
<line x1="361" y1="499.1" x2="357" y2="492" stroke="#20b0b0" stroke-width="1.7"/>
<line x1="426.2" y1="498.2" x2="432.5" y2="493" stroke="#20b0b0" stroke-width="1.7"/>
<line x1="426.2" y1="498.2" x2="432.5" y2="504" stroke="#20b0b0" stroke-width="1.7"/>
<line x1="371.6" y1="503.8" x2="371.6" y2="509.3" stroke="#e8d800" stroke-width="1.7"/>
<line x1="392.8" y1="503.4" x2="392.8" y2="508.9" stroke="#e8d800" stroke-width="1.7"/>
<line x1="416" y1="503.8" x2="416" y2="509.3" stroke="#e8d800" stroke-width="1.7"/>
<line x1="406.2" y1="483.4" x2="418.9" y2="487" stroke="#666" stroke-width="0.9" stroke-dasharray="1,1"/>
<circle cx="361" cy="499.1" r="4.4" fill="url(#gMo)"/>
<circle cx="371.6" cy="503.8" r="2.6" fill="url(#gS)"/>
<circle cx="381.8" cy="499.4" r="4.4" fill="url(#gRh)"/>
<circle cx="392.8" cy="503.4" r="2.6" fill="url(#gS)"/>
<circle cx="404" cy="499.1" r="4.4" fill="url(#gZn)"/>
<circle cx="416" cy="503.8" r="2.6" fill="url(#gS)"/>
<circle cx="426.2" cy="498.2" r="4.4" fill="url(#gMo)"/>
<circle cx="382.1" cy="487.7" r="2.7" fill="url(#gC)"/>
<circle cx="382.1" cy="480.1" r="2.6" fill="url(#gO)"/>
<circle cx="401.1" cy="487" r="2.6" fill="url(#gO)"/>
<circle cx="406.2" cy="483.4" r="2.5" fill="url(#gH)"/>
<circle cx="418.9" cy="487" r="2.6" fill="url(#gO)"/>
<line x1="444.9" y1="328.3" x2="450.20" y2="330.25" stroke="#20b0b0" stroke-width="1.7"/>
<line x1="450.20" y1="330.25" x2="455.5" y2="332.2" stroke="#e8d800" stroke-width="1.7"/>
<line x1="455.5" y1="332.2" x2="460.15" y2="330.35" stroke="#e8d800" stroke-width="1.7"/>
<line x1="460.15" y1="330.35" x2="464.8" y2="328.5" stroke="#f07810" stroke-width="1.7"/>
<line x1="464.8" y1="328.5" x2="470.05" y2="330.05" stroke="#f07810" stroke-width="1.7"/>
<line x1="470.05" y1="330.05" x2="475.3" y2="331.6" stroke="#e8d800" stroke-width="1.7"/>
<line x1="475.3" y1="331.6" x2="480.90" y2="329.75" stroke="#e8d800" stroke-width="1.7"/>
<line x1="480.90" y1="329.75" x2="486.5" y2="327.9" stroke="#ff00ff" stroke-width="1.7"/>
<line x1="486.5" y1="327.9" x2="492.10" y2="330.05" stroke="#ff00ff" stroke-width="1.7"/>
<line x1="492.10" y1="330.05" x2="497.7" y2="332.2" stroke="#e8d800" stroke-width="1.7"/>
<line x1="497.7" y1="332.2" x2="502.85" y2="329.85" stroke="#e8d800" stroke-width="1.7"/>
<line x1="502.85" y1="329.85" x2="508" y2="327.5" stroke="#20b0b0" stroke-width="1.7"/>
<line x1="464.8" y1="328.5" x2="465.40" y2="323.25" stroke="#f07810" stroke-width="1.7"/>
<line x1="465.40" y1="323.25" x2="466" y2="318" stroke="#808080" stroke-width="1.7"/>
<line x1="466" y1="318" x2="464.90" y2="316.10" stroke="#808080" stroke-width="1.7"/>
<line x1="464.90" y1="316.10" x2="463.8" y2="314.2" stroke="#808080" stroke-width="1.7"/>
<line x1="463.8" y1="314.2" x2="464.00" y2="311.10" stroke="#808080" stroke-width="1.7"/>
<line x1="464.00" y1="311.10" x2="464.2" y2="308" stroke="#d8d8d8" stroke-width="1.7"/>
<line x1="463.8" y1="314.2" x2="460.45" y2="315.15" stroke="#808080" stroke-width="1.7"/>
<line x1="460.45" y1="315.15" x2="457.1" y2="316.1" stroke="#d8d8d8" stroke-width="1.7"/>
<line x1="466" y1="318" x2="468.00" y2="315.95" stroke="#808080" stroke-width="1.7"/>
<line x1="468.00" y1="315.95" x2="470" y2="313.9" stroke="#ff0000" stroke-width="1.7"/>
<line x1="486.5" y1="327.9" x2="486.20" y2="322.50" stroke="#ff00ff" stroke-width="1.7"/>
<line x1="486.20" y1="322.50" x2="485.9" y2="317.1" stroke="#ff0000" stroke-width="1.7"/>
<line x1="485.9" y1="317.1" x2="483.55" y2="315.65" stroke="#ff0000" stroke-width="1.7"/>
<line x1="483.55" y1="315.65" x2="481.2" y2="314.2" stroke="#d8d8d8" stroke-width="1.7"/>
<line x1="485.9" y1="317.1" x2="488.70" y2="316.00" stroke="#ff0000" stroke-width="1.7"/>
<line x1="488.70" y1="316.00" x2="491.5" y2="314.9" stroke="#d8d8d8" stroke-width="1.7"/>
<line x1="499.8" y1="318.6" x2="503.90" y2="323.05" stroke="#ff0000" stroke-width="1.7"/>
<line x1="503.90" y1="323.05" x2="508" y2="327.5" stroke="#20b0b0" stroke-width="1.7"/>
<line x1="444.9" y1="328.3" x2="441" y2="322" stroke="#20b0b0" stroke-width="1.7"/>
<line x1="508" y1="327.5" x2="512.5" y2="322" stroke="#20b0b0" stroke-width="1.7"/>
<line x1="508" y1="327.5" x2="512.5" y2="333" stroke="#20b0b0" stroke-width="1.7"/>
<line x1="455.5" y1="332.2" x2="455.5" y2="337.7" stroke="#e8d800" stroke-width="1.7"/>
<line x1="475.3" y1="331.6" x2="475.3" y2="337.1" stroke="#e8d800" stroke-width="1.7"/>
<line x1="497.7" y1="332.2" x2="497.7" y2="337.7" stroke="#e8d800" stroke-width="1.7"/>
<line x1="470" y1="313.9" x2="481.2" y2="314.2" stroke="#666" stroke-width="0.9" stroke-dasharray="1,1"/>
<line x1="491.5" y1="314.9" x2="499.8" y2="318.6" stroke="#666" stroke-width="0.9" stroke-dasharray="1,1"/>
<circle cx="444.9" cy="328.3" r="4.4" fill="url(#gMo)"/>
<circle cx="455.5" cy="332.2" r="2.6" fill="url(#gS)"/>
<circle cx="464.8" cy="328.5" r="4.4" fill="url(#gRh)"/>
<circle cx="475.3" cy="331.6" r="2.6" fill="url(#gS)"/>
<circle cx="486.5" cy="327.9" r="4.4" fill="url(#gZn)"/>
<circle cx="497.7" cy="332.2" r="2.6" fill="url(#gS)"/>
<circle cx="508" cy="327.5" r="4.4" fill="url(#gMo)"/>
<circle cx="466" cy="318" r="2.7" fill="url(#gC)"/>
<circle cx="463.8" cy="314.2" r="2.7" fill="url(#gC)"/>
<circle cx="464.2" cy="308" r="2.5" fill="url(#gH)"/>
<circle cx="457.1" cy="316.1" r="2.5" fill="url(#gH)"/>
<circle cx="470" cy="313.9" r="2.6" fill="url(#gO)"/>
<circle cx="481.2" cy="314.2" r="2.5" fill="url(#gH)"/>
<circle cx="485.9" cy="317.1" r="2.6" fill="url(#gO)"/>
<circle cx="491.5" cy="314.9" r="2.5" fill="url(#gH)"/>
<circle cx="499.8" cy="318.6" r="2.6" fill="url(#gO)"/>
<line x1="532.9" y1="365.7" x2="538.25" y2="367.80" stroke="#20b0b0" stroke-width="1.7"/>
<line x1="538.25" y1="367.80" x2="543.6" y2="369.9" stroke="#e8d800" stroke-width="1.7"/>
<line x1="543.6" y1="369.9" x2="548.55" y2="367.95" stroke="#e8d800" stroke-width="1.7"/>
<line x1="548.55" y1="367.95" x2="553.5" y2="366" stroke="#f07810" stroke-width="1.7"/>
<line x1="553.5" y1="366" x2="558.95" y2="367.65" stroke="#f07810" stroke-width="1.7"/>
<line x1="558.95" y1="367.65" x2="564.4" y2="369.3" stroke="#e8d800" stroke-width="1.7"/>
<line x1="564.4" y1="369.3" x2="569.85" y2="367.55" stroke="#e8d800" stroke-width="1.7"/>
<line x1="569.85" y1="367.55" x2="575.3" y2="365.8" stroke="#ff00ff" stroke-width="1.7"/>
<line x1="575.3" y1="365.8" x2="581.40" y2="367.85" stroke="#ff00ff" stroke-width="1.7"/>
<line x1="581.40" y1="367.85" x2="587.5" y2="369.9" stroke="#e8d800" stroke-width="1.7"/>
<line x1="587.5" y1="369.9" x2="592.65" y2="367.65" stroke="#e8d800" stroke-width="1.7"/>
<line x1="592.65" y1="367.65" x2="597.8" y2="365.4" stroke="#20b0b0" stroke-width="1.7"/>
<line x1="553.5" y1="366" x2="554.15" y2="359.90" stroke="#f07810" stroke-width="1.7"/>
<line x1="554.15" y1="359.90" x2="554.8" y2="353.8" stroke="#808080" stroke-width="1.7"/>
<line x1="554.8" y1="353.8" x2="553.80" y2="352.30" stroke="#808080" stroke-width="1.7"/>
<line x1="553.80" y1="352.30" x2="552.8" y2="350.8" stroke="#808080" stroke-width="1.7"/>
<line x1="552.8" y1="350.8" x2="553.45" y2="347.80" stroke="#808080" stroke-width="1.7"/>
<line x1="553.45" y1="347.80" x2="554.1" y2="344.8" stroke="#d8d8d8" stroke-width="1.7"/>
<line x1="552.8" y1="350.8" x2="549.10" y2="351.35" stroke="#808080" stroke-width="1.7"/>
<line x1="549.10" y1="351.35" x2="545.4" y2="351.9" stroke="#d8d8d8" stroke-width="1.7"/>
<line x1="554.8" y1="353.8" x2="556.60" y2="352.40" stroke="#808080" stroke-width="1.7"/>
<line x1="556.60" y1="352.40" x2="558.4" y2="351" stroke="#ff0000" stroke-width="1.7"/>
<line x1="575.3" y1="365.8" x2="582.05" y2="361.25" stroke="#ff00ff" stroke-width="1.7"/>
<line x1="582.05" y1="361.25" x2="588.8" y2="356.7" stroke="#ff0000" stroke-width="1.7"/>
<line x1="588.8" y1="356.7" x2="593.30" y2="361.05" stroke="#ff0000" stroke-width="1.7"/>
<line x1="593.30" y1="361.05" x2="597.8" y2="365.4" stroke="#20b0b0" stroke-width="1.7"/>
<line x1="588.8" y1="356.7" x2="589.45" y2="354.30" stroke="#ff0000" stroke-width="1.7"/>
<line x1="589.45" y1="354.30" x2="590.1" y2="351.9" stroke="#d8d8d8" stroke-width="1.7"/>
<line x1="532.9" y1="365.7" x2="528" y2="359" stroke="#20b0b0" stroke-width="1.7"/>
<line x1="597.8" y1="365.4" x2="603.5" y2="359" stroke="#20b0b0" stroke-width="1.7"/>
<line x1="597.8" y1="365.4" x2="603.5" y2="370" stroke="#20b0b0" stroke-width="1.7"/>
<line x1="543.6" y1="369.9" x2="543.6" y2="375.4" stroke="#e8d800" stroke-width="1.7"/>
<line x1="564.4" y1="369.3" x2="564.4" y2="374.8" stroke="#e8d800" stroke-width="1.7"/>
<line x1="587.5" y1="369.9" x2="587.5" y2="375.4" stroke="#e8d800" stroke-width="1.7"/>
<circle cx="532.9" cy="365.7" r="4.4" fill="url(#gMo)"/>
<circle cx="543.6" cy="369.9" r="2.6" fill="url(#gS)"/>
<circle cx="553.5" cy="366" r="4.4" fill="url(#gRh)"/>
<circle cx="564.4" cy="369.3" r="2.6" fill="url(#gS)"/>
<circle cx="575.3" cy="365.8" r="4.4" fill="url(#gZn)"/>
<circle cx="587.5" cy="369.9" r="2.6" fill="url(#gS)"/>
<circle cx="597.8" cy="365.4" r="4.4" fill="url(#gMo)"/>
<circle cx="554.8" cy="353.8" r="2.7" fill="url(#gC)"/>
<circle cx="552.8" cy="350.8" r="2.7" fill="url(#gC)"/>
<circle cx="554.1" cy="344.8" r="2.5" fill="url(#gH)"/>
<circle cx="545.4" cy="351.9" r="2.5" fill="url(#gH)"/>
<circle cx="558.4" cy="351" r="2.6" fill="url(#gO)"/>
<circle cx="588.8" cy="356.7" r="2.6" fill="url(#gO)"/>
<circle cx="590.1" cy="351.9" r="2.5" fill="url(#gH)"/>
<line x1="539.2" y1="523.5" x2="544.65" y2="526.10" stroke="#20b0b0" stroke-width="1.7"/>
<line x1="544.65" y1="526.10" x2="550.1" y2="528.7" stroke="#e8d800" stroke-width="1.7"/>
<line x1="550.1" y1="528.7" x2="555.15" y2="526.20" stroke="#e8d800" stroke-width="1.7"/>
<line x1="555.15" y1="526.20" x2="560.2" y2="523.7" stroke="#f07810" stroke-width="1.7"/>
<line x1="560.2" y1="523.7" x2="566.10" y2="525.45" stroke="#f07810" stroke-width="1.7"/>
<line x1="566.10" y1="525.45" x2="572" y2="527.2" stroke="#e8d800" stroke-width="1.7"/>
<line x1="572" y1="527.2" x2="577.90" y2="525.00" stroke="#e8d800" stroke-width="1.7"/>
<line x1="577.90" y1="525.00" x2="583.8" y2="522.8" stroke="#ff00ff" stroke-width="1.7"/>
<line x1="583.8" y1="522.8" x2="590.05" y2="525.10" stroke="#ff00ff" stroke-width="1.7"/>
<line x1="590.05" y1="525.10" x2="596.3" y2="527.4" stroke="#e8d800" stroke-width="1.7"/>
<line x1="596.3" y1="527.4" x2="601.90" y2="524.65" stroke="#e8d800" stroke-width="1.7"/>
<line x1="601.90" y1="524.65" x2="607.5" y2="521.9" stroke="#20b0b0" stroke-width="1.7"/>
<line x1="560.2" y1="523.7" x2="560.50" y2="517.65" stroke="#f07810" stroke-width="1.7"/>
<line x1="560.50" y1="517.65" x2="560.8" y2="511.6" stroke="#808080" stroke-width="1.7"/>
<line x1="560.8" y1="511.6" x2="560.80" y2="508.00" stroke="#808080" stroke-width="1.7"/>
<line x1="560.80" y1="508.00" x2="560.8" y2="504.4" stroke="#ff0000" stroke-width="1.7"/>
<line x1="583.8" y1="522.8" x2="583.15" y2="516.15" stroke="#ff00ff" stroke-width="1.7"/>
<line x1="583.15" y1="516.15" x2="582.5" y2="509.5" stroke="#808080" stroke-width="1.7"/>
<line x1="582.5" y1="509.5" x2="582.85" y2="507.30" stroke="#808080" stroke-width="1.7"/>
<line x1="582.85" y1="507.30" x2="583.2" y2="505.1" stroke="#ff0000" stroke-width="1.7"/>
<line x1="583.2" y1="505.1" x2="582.20" y2="501.50" stroke="#ff0000" stroke-width="1.7"/>
<line x1="582.20" y1="501.50" x2="581.2" y2="497.9" stroke="#d8d8d8" stroke-width="1.7"/>
<line x1="582.5" y1="509.5" x2="578.90" y2="508.95" stroke="#808080" stroke-width="1.7"/>
<line x1="578.90" y1="508.95" x2="575.3" y2="508.4" stroke="#d8d8d8" stroke-width="1.7"/>
<line x1="582.5" y1="509.5" x2="585.15" y2="508.60" stroke="#808080" stroke-width="1.7"/>
<line x1="585.15" y1="508.60" x2="587.8" y2="507.7" stroke="#d8d8d8" stroke-width="1.7"/>
<line x1="607.5" y1="521.9" x2="603.90" y2="516.75" stroke="#20b0b0" stroke-width="1.7"/>
<line x1="603.90" y1="516.75" x2="600.3" y2="511.6" stroke="#ff0000" stroke-width="1.7"/>
<line x1="600.3" y1="511.6" x2="601.90" y2="508.65" stroke="#ff0000" stroke-width="1.7"/>
<line x1="601.90" y1="508.65" x2="603.5" y2="505.7" stroke="#d8d8d8" stroke-width="1.7"/>
<line x1="539.2" y1="523.5" x2="534" y2="517" stroke="#20b0b0" stroke-width="1.7"/>
<line x1="607.5" y1="521.9" x2="613.5" y2="517" stroke="#20b0b0" stroke-width="1.7"/>
<line x1="607.5" y1="521.9" x2="613.5" y2="526" stroke="#20b0b0" stroke-width="1.7"/>
<line x1="550.1" y1="528.7" x2="550.1" y2="534.2" stroke="#e8d800" stroke-width="1.7"/>
<line x1="572" y1="527.2" x2="572" y2="532.7" stroke="#e8d800" stroke-width="1.7"/>
<line x1="596.3" y1="527.4" x2="596.3" y2="532.9" stroke="#e8d800" stroke-width="1.7"/>
<circle cx="539.2" cy="523.5" r="4.4" fill="url(#gMo)"/>
<circle cx="550.1" cy="528.7" r="2.6" fill="url(#gS)"/>
<circle cx="560.2" cy="523.7" r="4.4" fill="url(#gRh)"/>
<circle cx="572" cy="527.2" r="2.6" fill="url(#gS)"/>
<circle cx="583.8" cy="522.8" r="4.4" fill="url(#gZn)"/>
<circle cx="596.3" cy="527.4" r="2.6" fill="url(#gS)"/>
<circle cx="607.5" cy="521.9" r="4.4" fill="url(#gMo)"/>
<circle cx="560.8" cy="511.6" r="2.7" fill="url(#gC)"/>
<circle cx="560.8" cy="504.4" r="2.6" fill="url(#gO)"/>
<circle cx="582.5" cy="509.5" r="2.7" fill="url(#gC)"/>
<circle cx="583.2" cy="505.1" r="2.6" fill="url(#gO)"/>
<circle cx="581.2" cy="497.9" r="2.5" fill="url(#gH)"/>
<circle cx="575.3" cy="508.4" r="2.5" fill="url(#gH)"/>
<circle cx="587.8" cy="507.7" r="2.5" fill="url(#gH)"/>
<circle cx="600.3" cy="511.6" r="2.6" fill="url(#gO)"/>
<circle cx="603.5" cy="505.7" r="2.5" fill="url(#gH)"/>
<text x="58.4" y="321.1" font-size="10.5" fill="#ff0a0a" text-anchor="start" font-weight="normal" >3</text>
<text x="122.2" y="435.1" font-size="10.5" fill="#0000ff" text-anchor="start" font-weight="normal" >3</text>
<text x="213.9" y="416.7" font-size="10.5" fill="#0000ff" text-anchor="start" font-weight="normal" >2</text>
<text x="269.4" y="484.9" font-size="10.5" fill="#0000ff" text-anchor="start" font-weight="normal" >1</text>
<text x="359.6" y="484.2" font-size="10.5" fill="#ff0a0a" text-anchor="start" font-weight="normal" >1</text>
<text x="443.7" y="311.9" font-size="10.5" fill="#ff0a0a" text-anchor="start" font-weight="normal" >2</text>
<text x="530" y="348.8" font-size="10.5" fill="#ff0a0a" text-anchor="start" font-weight="normal" >3</text>
<text x="536.1" y="505.8" font-size="10.5" fill="#ff0a0a" text-anchor="start" font-weight="normal" >4</text>
<path d="M71.3,413 Q74.5,419 73.36,424.04" fill="none" stroke="#ff0a0a" stroke-width="1.1"/>
<path d="M72.8,426.5 L71.49,421.90 L73.45,423.63 L75.97,422.91 Z" fill="#ff0a0a"/>
<path d="M471.2,404.8 Q475,401 478.42,401.64" fill="none" stroke="#ff0a0a" stroke-width="1.1"/>
<path d="M480.9,402.1 L476.35,403.59 L478.01,401.56 L477.19,399.07 Z" fill="#ff0a0a"/>
<path d="M483.4,398.5 Q491,397 493.76,390.90" fill="none" stroke="#ff0a0a" stroke-width="1.1"/>
<path d="M494.8,388.6 L495.16,393.37 L493.59,391.28 L490.97,391.48 Z" fill="#ff0a0a"/>
<path d="M471.6,416.3 Q475,421 477.78,423.66" fill="none" stroke="#0000ff" stroke-width="1.1"/>
<path d="M479.6,425.4 L474.98,424.16 L477.48,423.37 L478.15,420.83 Z" fill="#0000ff"/>
<path d="M553.4,418.2 Q553.2,424.5 552.24,428.16" fill="none" stroke="#ff0a0a" stroke-width="1.1"/>
<path d="M551.6,430.6 L550.44,425.95 L552.35,427.76 L554.89,427.12 Z" fill="#ff0a0a"/>
<circle cx="33.8" cy="517.7" r="7.7" fill="url(#gMo)"/>
<text x="33.8" y="521.2" font-size="9.8" font-weight="bold" fill="#fff" text-anchor="middle">Mo</text>
<circle cx="55.5" cy="517.7" r="7.7" fill="url(#gRh)"/>
<text x="55.5" y="521.2" font-size="9.8" font-weight="bold" fill="#fff" text-anchor="middle">Rh</text>
<circle cx="76.5" cy="517.7" r="7.7" fill="url(#gZn)"/>
<text x="76.5" y="521.2" font-size="9.8" font-weight="bold" fill="#fff" text-anchor="middle">Zn</text>
<circle cx="99.6" cy="517.7" r="7.7" fill="url(#gS)"/>
<text x="99.6" y="521.2" font-size="9.8" font-weight="bold" fill="#111" text-anchor="middle">S</text>
<circle cx="121.7" cy="517.7" r="7.7" fill="url(#gO)"/>
<text x="121.7" y="521.2" font-size="9.8" font-weight="bold" fill="#fff" text-anchor="middle">O</text>
<circle cx="143.8" cy="517.7" r="7.7" fill="url(#gC)"/>
<text x="143.8" y="521.2" font-size="9.8" font-weight="bold" fill="#fff" text-anchor="middle">C</text>
<circle cx="166.1" cy="517.7" r="7.7" fill="url(#gH)"/>
<text x="166.1" y="521.2" font-size="9.8" font-weight="bold" fill="#111" text-anchor="middle">H</text>
</svg></body></html>
